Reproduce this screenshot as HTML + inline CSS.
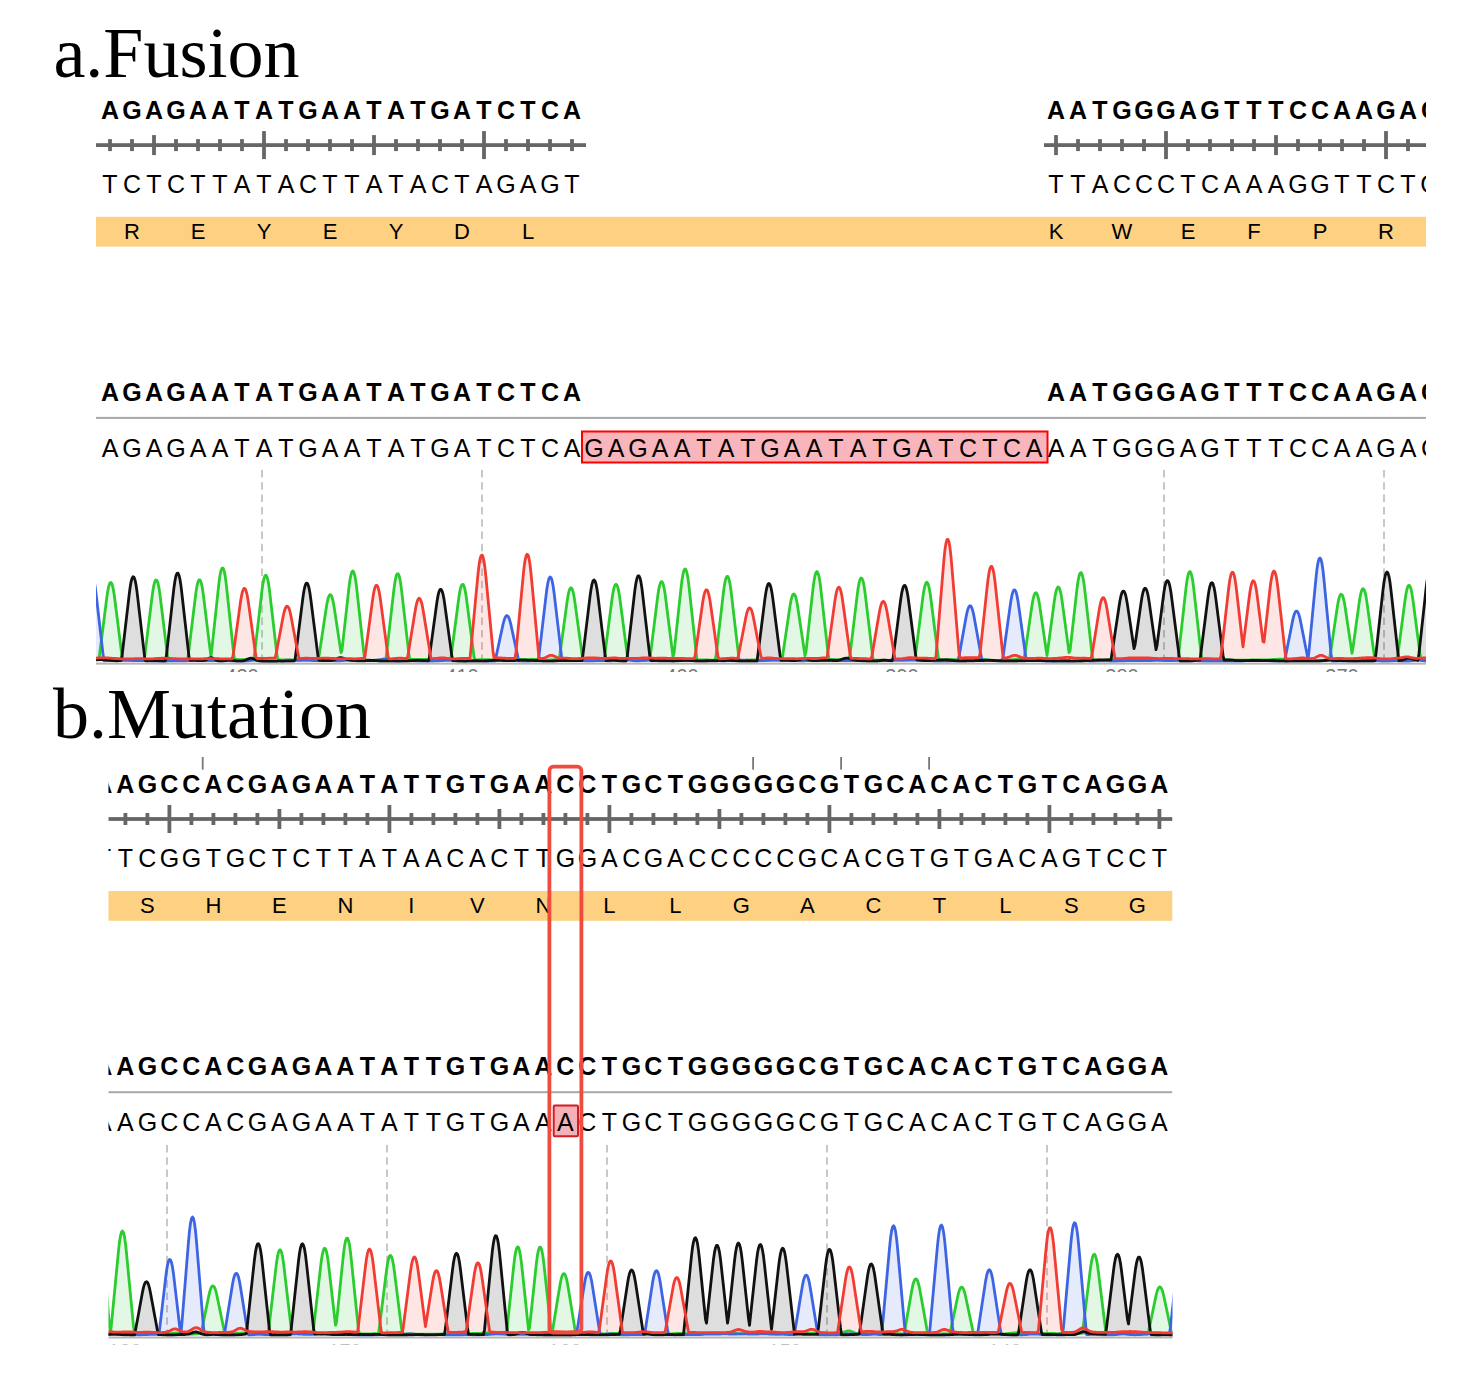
<!DOCTYPE html><html><head><meta charset="utf-8"><style>html,body{margin:0;padding:0;background:#fff;}body{width:1475px;height:1395px;overflow:hidden;} svg{display:block;}</style></head><body>
<svg width="1475" height="1395" viewBox="0 0 1475 1395">
<defs><clipPath id="cf"><rect x="96" y="0" width="1330" height="1395"/></clipPath><clipPath id="cfc"><rect x="96" y="440" width="1330" height="223"/></clipPath><clipPath id="cfn"><rect x="96" y="665" width="1330" height="7"/></clipPath><clipPath id="cm"><rect x="108.5" y="0" width="1064" height="1395"/></clipPath><clipPath id="cmc"><rect x="108.5" y="1130" width="1064" height="207"/></clipPath><clipPath id="cmn"><rect x="108.5" y="1336" width="1064" height="8.5"/></clipPath></defs>
<rect width="1475" height="1395" fill="#fff"/>
<text x="53.4" y="77" font-family='"Liberation Serif", serif' font-size="72" fill="#000">a.Fusion</text>
<text x="53" y="738.3" font-family='"Liberation Serif", serif' font-size="72" fill="#000">b.Mutation</text>
<g clip-path="url(#cf)">
<text x="110.0 132.0 154.0 176.0 198.0 220.0 242.0 264.0 286.0 308.0 330.0 352.0 374.0 396.0 418.0 440.0 462.0 484.0 506.0 528.0 550.0 572.0" y="119.0" font-family='"Liberation Sans", sans-serif' font-size="25" font-weight="bold" fill="#000" text-anchor="middle" >AGAGAATATGAATATGATCTCA</text>
<text x="1056.0 1078.0 1100.0 1122.0 1144.0 1166.0 1188.0 1210.0 1232.0 1254.0 1276.0 1298.0 1320.0 1342.0 1364.0 1386.0 1408.0 1430.0" y="119.0" font-family='"Liberation Sans", sans-serif' font-size="25" font-weight="bold" fill="#000" text-anchor="middle" >AATGGGAGTTTCCAAGAC</text>
<rect x="96.0" y="143.2" width="490.0" height="3.8" fill="#666666"/>
<rect x="108.1" y="139.1" width="3.8" height="12.0" fill="#666666"/>
<rect x="130.1" y="139.1" width="3.8" height="12.0" fill="#666666"/>
<rect x="152.1" y="135.1" width="3.8" height="20.0" fill="#666666"/>
<rect x="174.1" y="139.1" width="3.8" height="12.0" fill="#666666"/>
<rect x="196.1" y="139.1" width="3.8" height="12.0" fill="#666666"/>
<rect x="218.1" y="139.1" width="3.8" height="12.0" fill="#666666"/>
<rect x="240.1" y="139.1" width="3.8" height="12.0" fill="#666666"/>
<rect x="262.1" y="131.1" width="3.8" height="28.0" fill="#666666"/>
<rect x="284.1" y="139.1" width="3.8" height="12.0" fill="#666666"/>
<rect x="306.1" y="139.1" width="3.8" height="12.0" fill="#666666"/>
<rect x="328.1" y="139.1" width="3.8" height="12.0" fill="#666666"/>
<rect x="350.1" y="139.1" width="3.8" height="12.0" fill="#666666"/>
<rect x="372.1" y="135.1" width="3.8" height="20.0" fill="#666666"/>
<rect x="394.1" y="139.1" width="3.8" height="12.0" fill="#666666"/>
<rect x="416.1" y="139.1" width="3.8" height="12.0" fill="#666666"/>
<rect x="438.1" y="139.1" width="3.8" height="12.0" fill="#666666"/>
<rect x="460.1" y="139.1" width="3.8" height="12.0" fill="#666666"/>
<rect x="482.1" y="131.1" width="3.8" height="28.0" fill="#666666"/>
<rect x="504.1" y="139.1" width="3.8" height="12.0" fill="#666666"/>
<rect x="526.1" y="139.1" width="3.8" height="12.0" fill="#666666"/>
<rect x="548.1" y="139.1" width="3.8" height="12.0" fill="#666666"/>
<rect x="570.1" y="139.1" width="3.8" height="12.0" fill="#666666"/>
<rect x="1044.0" y="143.2" width="396.0" height="3.8" fill="#666666"/>
<rect x="1054.1" y="135.1" width="3.8" height="20.0" fill="#666666"/>
<rect x="1076.1" y="139.1" width="3.8" height="12.0" fill="#666666"/>
<rect x="1098.1" y="139.1" width="3.8" height="12.0" fill="#666666"/>
<rect x="1120.1" y="139.1" width="3.8" height="12.0" fill="#666666"/>
<rect x="1142.1" y="139.1" width="3.8" height="12.0" fill="#666666"/>
<rect x="1164.1" y="131.1" width="3.8" height="28.0" fill="#666666"/>
<rect x="1186.1" y="139.1" width="3.8" height="12.0" fill="#666666"/>
<rect x="1208.1" y="139.1" width="3.8" height="12.0" fill="#666666"/>
<rect x="1230.1" y="139.1" width="3.8" height="12.0" fill="#666666"/>
<rect x="1252.1" y="139.1" width="3.8" height="12.0" fill="#666666"/>
<rect x="1274.1" y="135.1" width="3.8" height="20.0" fill="#666666"/>
<rect x="1296.1" y="139.1" width="3.8" height="12.0" fill="#666666"/>
<rect x="1318.1" y="139.1" width="3.8" height="12.0" fill="#666666"/>
<rect x="1340.1" y="139.1" width="3.8" height="12.0" fill="#666666"/>
<rect x="1362.1" y="139.1" width="3.8" height="12.0" fill="#666666"/>
<rect x="1384.1" y="131.1" width="3.8" height="28.0" fill="#666666"/>
<rect x="1406.1" y="139.1" width="3.8" height="12.0" fill="#666666"/>
<rect x="1428.1" y="139.1" width="3.8" height="12.0" fill="#666666"/>
<text x="110.0 132.0 154.0 176.0 198.0 220.0 242.0 264.0 286.0 308.0 330.0 352.0 374.0 396.0 418.0 440.0 462.0 484.0 506.0 528.0 550.0 572.0" y="193.0" font-family='"Liberation Sans", sans-serif' font-size="25" font-weight="normal" fill="#000" text-anchor="middle" >TCTCTTATACTTATACTAGAGT</text>
<text x="1056.0 1078.0 1100.0 1122.0 1144.0 1166.0 1188.0 1210.0 1232.0 1254.0 1276.0 1298.0 1320.0 1342.0 1364.0 1386.0 1408.0 1430.0" y="193.0" font-family='"Liberation Sans", sans-serif' font-size="25" font-weight="normal" fill="#000" text-anchor="middle" >TTACCCTCAAAGGTTCTG</text>
<rect x="96" y="216.8" width="1340" height="29.8" fill="#fdd082"/>
<text x="132.0 198.0 264.0 330.0 396.0 462.0 528.0" y="239.0" font-family='"Liberation Sans", sans-serif' font-size="22" font-weight="normal" fill="#000" text-anchor="middle" >REYEYDL</text>
<text x="1056.0 1122.0 1188.0 1254.0 1320.0 1386.0" y="239.0" font-family='"Liberation Sans", sans-serif' font-size="22" font-weight="normal" fill="#000" text-anchor="middle" >KWEFPR</text>
<text x="110.0 132.0 154.0 176.0 198.0 220.0 242.0 264.0 286.0 308.0 330.0 352.0 374.0 396.0 418.0 440.0 462.0 484.0 506.0 528.0 550.0 572.0" y="401.0" font-family='"Liberation Sans", sans-serif' font-size="25" font-weight="bold" fill="#000" text-anchor="middle" >AGAGAATATGAATATGATCTCA</text>
<text x="1056.0 1078.0 1100.0 1122.0 1144.0 1166.0 1188.0 1210.0 1232.0 1254.0 1276.0 1298.0 1320.0 1342.0 1364.0 1386.0 1408.0 1430.0" y="401.0" font-family='"Liberation Sans", sans-serif' font-size="25" font-weight="bold" fill="#000" text-anchor="middle" >AATGGGAGTTTCCAAGAC</text>
<rect x="96" y="416.9" width="1340" height="2" fill="#a8a8a8"/>
<rect x="582" y="431.5" width="465.5" height="31" fill="#f8b5bb" stroke="#ff0000" stroke-width="2"/>
<text x="110.0 132.0 154.0 176.0 198.0 220.0 242.0 264.0 286.0 308.0 330.0 352.0 374.0 396.0 418.0 440.0 462.0 484.0 506.0 528.0 550.0 572.0 594.0 616.0 638.0 660.0 682.0 704.0 726.0 748.0 770.0 792.0 814.0 836.0 858.0 880.0 902.0 924.0 946.0 968.0 990.0 1012.0 1034.0 1056.0 1078.0 1100.0 1122.0 1144.0 1166.0 1188.0 1210.0 1232.0 1254.0 1276.0 1298.0 1320.0 1342.0 1364.0 1386.0 1408.0 1430.0" y="456.8" font-family='"Liberation Sans", sans-serif' font-size="25" font-weight="normal" fill="#000" text-anchor="middle" >AGAGAATATGAATATGATCTCAGAGAATATGAATATGATCTCAAATGGGAGTTTCCAAGAC</text>
<line x1="262.0" y1="470.0" x2="262.0" y2="660.0" stroke="#c8c8c8" stroke-width="2" stroke-dasharray="7.5 4.8"/>
<line x1="482.0" y1="470.0" x2="482.0" y2="660.0" stroke="#c8c8c8" stroke-width="2" stroke-dasharray="7.5 4.8"/>
<line x1="1164.0" y1="470.0" x2="1164.0" y2="660.0" stroke="#c8c8c8" stroke-width="2" stroke-dasharray="7.5 4.8"/>
<line x1="1384.0" y1="470.0" x2="1384.0" y2="660.0" stroke="#c8c8c8" stroke-width="2" stroke-dasharray="7.5 4.8"/>
</g>
<g clip-path="url(#cfc)">
<defs><path id="cfcA" d="M81.0 660.4L81.0 659.4l1 0 1+0.1 1 0 1+0.1 1 0 1 0 1+0.1 1 0 1 0 1 0 1 0 1+0.1 1 0 1 0 1 0 1+0.1 1 0 1-0.7 1-7.9 1-7.9 1-7.9 1-7.9 1-7.9 1-7.9 1-8 1-7.8 1-6.3 1-4.4 1-2.4 1-0.4 1+1.6 1+3.6 1+5.6 1+7.5 1+7.9 1+8 1+7.9 1+8 1+7.9 1+8 1+7.9 1+4 1 0 1 0 1 0 1-0.1 1 0 1 0 1-0.1 1 0 1-0.1 1 0 1-0.1 1-0.1 1-0.1 1-0.1 1-0.1 1-0.1 1-0.1 1-0.1 1-0.1 1-0.1 1-0.1 1-4.9 1-8.2 1-8.1 1-8.1 1-8.1 1-8.1 1-8.1 1-8 1-7.4 1-5.4 1-3.4 1-1.3 1+0.7 1+2.7 1+4.8 1+6.8 1+8.1 1+8.2 1+8.1 1+8.2 1+8.1 1+8.1 1+8 1+8.1 1 0 1 0 1 0 1+0.1 1 0 1+0.1 1+0.1 1 0 1 0 1 0 1-0.1 1 0 1-0.1 1 0 1-0.1 1 0 1-0.1 1 0 1 0 1-2.4 1-8.2 1-8.1 1-8.2 1-8.2 1-8.2 1-8.2 1-8.2 1-7.9 1-6.1 1-4.1 1-2 1 0 1+2.1 1+4.1 1+6.1 1+7.9 1+8.2 1+8.2 1+8.1 1+8.2 1+8.1 1+8.2 1+7.8 1-9.3 1-9.3 1-9.3 1-9.3 1-9.4 1-9.3 1-9.4 1-9.1 1-7.1 1-4.8 1-2.4 1-0.1 1+2.3 1+4.6 1+7 1+9.1 1+9.4 1+9.4 1+9.4 1+9.3 1+9.4 1+9.4 1+9.3 1+2.8 1 0 1 0 1+0.1 1 0 1 0 1 0 1 0 1+0.1 1 0 1-0.1 1 0 1 0 1-0.1 1 0 1 0 1 0 1 0 1 0 1-0.8 1-8.5 1-8.6 1-8.5 1-8.6 1-8.6 1-8.6 1-8.6 1-8.6 1-6.9 1-4.8 1-2.7 1-0.5 1+1.6 1+3.8 1+6 1+8.1 1+8.6 1+8.7 1+8.6 1+8.7 1+8.7 1+8.7 1+8.7 1+4.3 1+0.1 1+0.1 1 0 1 0 1+0.1 1 0 1 0 1 0 1-0.1 1 0 1 0 1-0.1 1 0 1 0 1 0 1-0.1 1 0 1 0 1 0 1+0.1 1 0 1 0 1+0.1 1 0 1+0.1 1 0 1 0 1 0 1 0 1 0 1 0 1 0 1 0 1-0.1 1 0 1 0 1 0 1 0 1 0 1 0 1-3.9 1-6.7 1-6.6 1-6.6 1-6.6 1-6.7 1-6.6 1-6.7 1-6.1 1-4.6 1-2.9 1-1.2 1+0.4 1+2.1 1+3.7 1+5.4 1+6.5 1+6.6 1+6.6 1+6.6 1+6.7 1+6.6 1+6.7 1-2.4 1-9 1-9.1 1-9 1-9 1-9 1-9 1-9 1-7.4 1-5.1 1-2.9 1-0.7 1+1.7 1+3.9 1+6.1 1+8.4 1+9.1 1+9.1 1+9.1 1+9.1 1+9.1 1+9 1+9.1 1+5.5 1 0 1 0 1 0 1+0.1 1 0 1 0 1 0 1 0 1-0.1 1 0 1 0 1-0.1 1 0 1-0.1 1 0 1-0.1 1 0 1-0.1 1-0.1 1 0 1-1 1-8.8 1-8.7 1-8.8 1-8.8 1-8.8 1-8.8 1-8.7 1-8.7 1-7 1-4.8 1-2.7 1-0.4 1+1.8 1+3.9 1+6.2 1+8.2 1+8.8 1+8.7 1+8.8 1+8.8 1+8.7 1+8.8 1+8.7 1+4.4 1 0 1 0 1 0 1-0.1 1 0 1 0 1 0 1 0 1-0.1 1 0 1 0 1 0 1 0 1 0 1 0 1 0 1 0 1+0.1 1 0 1+0.1 1+0.1 1 0 1+0.1 1 0 1 0 1+0.1 1 0 1 0 1-0.1 1 0 1-0.1 1 0 1-0.1 1-0.1 1 0 1-0.1 1-0.1 1 0 1-0.1 1 0 1-1.6 1-7.7 1-7.7 1-7.6 1-7.7 1-7.6 1-7.7 1-7.6 1-7.5 1-5.9 1-3.9 1-2.1 1-0.2 1+1.8 1+3.6 1+5.6 1+7.4 1+7.7 1+7.7 1+7.7 1+7.7 1+7.7 1+7.7 1+7.8 1+3.1 1 0 1 0 1 0 1-0.1 1 0 1 0 1 0 1-0.1 1 0 1 0 1 0 1+0.1 1 0 1 0 1+0.1 1 0 1 0 1+0.1 1 0 1 0 1+0.1 1 0 1+0.1 1 0 1+0.1 1 0 1 0 1 0 1 0 1 0 1 0 1 0 1-0.1 1 0 1-0.1 1-0.1 1-0.1 1 0 1-0.1 1-0.1 1-0.1 1 0 1-0.1 1 0 1 0 1-0.1 1 0 1 0 1 0 1 0 1 0 1 0 1 0 1 0 1 0 1 0 1-0.1 1+0.1 1 0 1 0 1+0.1 1 0 1+0.1 1+0.1 1+0.1 1+0.1 1 0 1+0.1 1+0.1 1 0 1+0.1 1 0 1 0 1 0 1-0.1 1 0 1-0.1 1-0.1 1 0 1-0.1 1 0 1-0.1 1 0 1 0 1-5.9 1-7.3 1-7.3 1-7.4 1-7.3 1-7.4 1-7.4 1-7.3 1-6.4 1-4.6 1-2.7 1-0.9 1+1 1+2.9 1+4.6 1+6.5 1+7.4 1+7.4 1+7.3 1+7.4 1+7.3 1+7.3 1+7.3 1+5.8 1 0 1-0.1 1 0 1-0.1 1 0 1 0 1 0 1 0 1 0 1+0.1 1 0 1 0 1 0 1-0.1 1 0 1 0 1 0 1-0.1 1 0 1-0.1 1 0 1-6.3 1-7.7 1-7.8 1-7.7 1-7.7 1-7.7 1-7.7 1-7.6 1-6.7 1-4.7 1-2.8 1-0.9 1+1 1+2.9 1+4.8 1+6.7 1+7.6 1+7.6 1+7.6 1+7.6 1+7.6 1+7.6 1+7.6 1+6.2 1 0 1+0.1 1+0.1 1 0 1+0.2 1+0.1 1+0.1 1+0.1 1+0.2 1+0.1 1+0.1 1+0.1 1+0.1 1 0 1 0 1 0 1 0 1 0 1-0.1 1 0 1-0.1 1-1.7 1-8.1 1-8.1 1-8.1 1-8 1-8 1-8.1 1-7.9 1-7.8 1-6.2 1-4.1 1-2.1 1-0.2 1+1.9 1+3.9 1+5.8 1+7.7 1+8 1+8 1+8 1+8 1+7.9 1+8 1+7.9 1-3.4 1-9.3 1-9.4 1-9.3 1-9.3 1-9.2 1-9.3 1-9.3 1-8.3 1-6 1-3.7 1-1.4 1+0.9 1+3.3 1+5.5 1+7.8 1+9.2 1+9.3 1+9.3 1+9.2 1+9.3 1+9.4 1+9.3 1+8.4 1 0 1+0.1 1 0 1+0.1 1 0 1 0 1 0 1 0 1 0 1 0 1 0 1+0.1 1 0 1 0 1 0 1 0 1+0.1 1 0 1-4.3 1-8.4 1-8.5 1-8.6 1-8.5 1-8.5 1-8.6 1-8.6 1-8.1 1-6 1-3.9 1-1.8 1+0.3 1+2.5 1+4.7 1+6.8 1+8.5 1+8.6 1+8.6 1+8.6 1+8.6 1+8.6 1+8.6 1+8.6 1+0.9 1 0 1 0 1 0 1 0 1 0 1 0 1-0.1 1 0 1-0.1 1 0 1-0.1 1 0 1-0.1 1 0 1 0 1 0 1+0.1 1 0 1+0.1 1 0 1+0.1 1 0 1+0.1 1 0 1 0 1 0 1 0 1 0 1 0 1 0 1 0 1 0 1 0 1 0 1 0 1 0 1 0 1 0 1-0.1 1 0 1 0 1 0 1-6.8 1-6.7 1-6.8 1-6.8 1-6.8 1-6.7 1-6.8 1-6.7 1-5.6 1-3.9 1-2.2 1-0.5 1+1.2 1+2.9 1+4.5 1+6.2 1+6.8 1+6.7 1+6.7 1+6.7 1+6.7 1+6.7 1+6.7 1-4.1 1-9 1-9 1-9 1-9 1-9 1-8.9 1-9 1-7.6 1-5.4 1-3.2 1-0.9 1+1.4 1+3.6 1+5.8 1+8.1 1+8.9 1+9 1+9 1+8.9 1+8.9 1+9 1+9 1+6.2 1+0.1 1 0 1 0 1+0.1 1 0 1+0.1 1 0 1 0 1 0 1-0.1 1 0 1-0.1 1-0.1 1 0 1-0.1 1-0.1 1 0 1 0 1-0.1 1 0 1-4.1 1-8.4 1-8.3 1-8.3 1-8.3 1-8.3 1-8.3 1-8.3 1-7.8 1-5.8 1-3.7 1-1.6 1+0.5 1+2.5 1+4.7 1+6.7 1+8.3 1+8.4 1+8.4 1+8.4 1+8.4 1+8.4 1+8.3 1+8.4 1+0.8 1 0 1 0 1 0 1 0 1+0.1 1 0 1 0 1 0 1 0 1 0 1+0.1 1 0 1 0 1 0 1 0 1-0.1 1 0 1 0 1 0 1-0.1 1 0 1 0 1 0 1-0.1 1 0 1 0 1 0 1 0 1 0 1 0 1-0.1 1 0 1 0 1-0.1 1-0.1 1-0.1 1-0.1 1-0.1 1-0.1 1-0.1 1 0 1-8 1-7.9 1-7.9 1-7.8 1-7.9 1-7.8 1-7.8 1-7.8 1-6.4 1-4.5 1-2.6 1-0.5 1+1.4 1+3.4 1+5.3 1+7.4 1+7.9 1+7.9 1+8 1+7.9 1+7.9 1+8 1+7.9 1+4.7 1 0 1-0.1 1 0 1-0.1 1 0 1-0.1 1 0 1-0.1 1 0 1 0 1 0 1-0.1 1 0 1+0.1 1 0 1 0 1 0 1+0.1 1 0 1+0.1 1 0 1+0.1 1 0 1 0 1+0.1 1 0 1+0.1 1 0 1+0.1 1 0 1 0 1 0 1 0 1 0 1 0 1-0.1 1-0.1 1-0.1 1-0.1 1-0.2 1-0.1 1-0.1 1-0.1 1 0 1+0.1 1+0.1 1+0.1 1+0.1 1+0.1 1+0.2 1+0.1 1+0.1 1 0 1+0.1 1 0 1 0 1+0.1 1 0 1 0 1 0 1 0 1 0 1 0 1 0 1 0 1 0 1-0.1 1 0 1 0 1-0.1 1-0.1 1-0.1 1-0.1 1-0.1 1-0.1 1-0.1 1-0.1 1-0.1 1 0 1 0 1 0 1+0.1 1+0.1 1+0.1 1 0 1-6.7 1-6.8 1-6.8 1-6.8 1-6.9 1-6.8 1-6.9 1-6.9 1-5.7 1-3.9 1-2.3 1-0.5 1+1.2 1+2.9 1+4.6 1+6.3 1+6.9 1+6.9 1+6.9 1+6.9 1+6.9 1+6.8 1+6.6 1-7.5 1-7.4 1-7.5 1-7.4 1-7.5 1-7.4 1-7.5 1-6.9 1-5 1-3.2 1-1.3 1+0.5 1+2.4 1+4.2 1+6.1 1+7.4 1+7.4 1+7.5 1+7.4 1+7.5 1+7.5 1+7.6 1-1.5 1-8.9 1-8.9 1-8.9 1-8.9 1-8.9 1-8.9 1-8.9 1-7.4 1-5.1 1-2.9 1-0.8 1+1.6 1+3.7 1+5.9 1+8.1 1+8.8 1+8.9 1+8.8 1+8.8 1+8.9 1+9 1+9 1+5.5 1+0.2 1+0.1 1+0.2 1+0.1 1+0.1 1+0.1 1 0 1 0 1 0 1 0 1-0.1 1-0.1 1-0.1 1-0.1 1-0.1 1-0.1 1-0.1 1-0.1 1-0.1 1-0.1 1 0 1 0 1 0 1 0 1+0.1 1+0.2 1+0.1 1+0.1 1+0.1 1+0.1 1 0 1 0 1 0 1 0 1-0.1 1-0.1 1 0 1-0.1 1-0.1 1-0.1 1-0.1 1-0.1 1 0 1 0 1-0.1 1 0 1 0 1+0.1 1 0 1 0 1+0.1 1 0 1 0 1 0 1 0 1 0 1+0.1 1 0 1+0.1 1+0.1 1+0.1 1+0.1 1+0.1 1+0.1 1+0.1 1+0.1 1 0 1 0 1+0.1 1 0 1 0 1 0 1 0 1 0 1 0 1 0 1 0 1 0 1 0 1 0 1-0.1 1 0 1 0 1-0.1 1-0.1 1-9 1-9 1-9.1 1-9 1-9 1-9.1 1-9 1-9 1-7.4 1-5.2 1-3 1-0.7 1+1.5 1+3.7 1+6 1+8.1 1+8.9 1+8.9 1+8.9 1+8.8 1+9 1+8.9 1+9 1+5.4 1 0 1+0.1 1+0.1 1+0.1 1+0.1 1+0.1 1+0.1 1+0.2 1+0.1 1+0.1 1+0.1 1 0 1+0.1 1 0 1 0 1-0.1 1 0 1-0.1 1 0 1-0.1 1 0 1 0 1 0 1 0 1+0.1 1+0.1 1+0.1 1 0 1+0.1 1 0 1+0.1 1 0 1 0 1 0 1 0 1 0 1 0 1 0 1+0.1 1 0 1 0 1 0 1 0 1 0 1 0 1 0 1-0.1 1 0 1-0.1 1 0 1-0.1 1 0 1 0 1 0 1 0 1 0 1 0 1 0 1 0 1+0.1 1 0 1 0 1 0 1 0 1-0.1 1 0 1-0.1 1-0.1 1 0 1-0.1 1-0.1 1-0.1 1-0.1 1 0 1 0 1-0.1 1 0 1 0 1 0 1 0 1 0 1 0 1+0.1 1 0 1 0 1 0 1+0.1 1 0 1 0 1 0 1 0 1+0.1 1 0 1 0 1+0.1 1 0 1+0.1 1+0.1 1 0 1+0.1 1+0.1 1+0.1 1 0 1+0.1 1 0 1+0.1 1 0 1 0 1 0 1+0.1 1 0 1 0 1 0 1 0 1 0 1 0 1 0 1 0 1 0 1 0 1-0.1 1 0 1 0 1 0 1 0 1 0 1-0.1 1-4 1-6.7 1-6.7 1-6.7 1-6.8 1-6.7 1-6.8 1-6.7 1-6.2 1-4.6 1-2.9 1-1.2 1+0.5 1+2.2 1+3.8 1+5.6 1+6.7 1+6.7 1+6.7 1+6.7 1+6.8 1+6.7 1+6.7 1-5.7 1-7.3 1-7.2 1-7.3 1-7.3 1-7.3 1-7.3 1-6.5 1-4.7 1-2.9 1-1.1 1+0.8 1+2.5 1+4.4 1+6.2 1+7.3 1+7.3 1+7.3 1+7.3 1+7.2 1+7.3 1+7.3 1+6.5 1 0 1+0.1 1 0 1 0 1 0 1 0 1 0 1 0 1+0.1 1 0 1 0 1 0 1 0 1 0 1 0 1 0 1 0 1-0.1 1 0 1-0.1 1 0 1-0.1 1-6.1 1-7.7 1-7.6 1-7.7 1-7.6 1-7.6 1-7.6 1-7.7 1-6.6 1-4.8 1-2.9 1-0.9 1+0.9 1+2.8 1+4.8 1+6.7 1+7.6 1+7.7 1+7.6 1+7.7 1+7.6 1+7.7 1+7.7 1+6.1 1 0 1+0.1 1 0 1 0 1 0 1 0 1+0.1 1 0 1 0 1 0 1 0 1+0.1 1 0 1 0 1 0 1 0 1 0 1 0 1 0 1 0L1441.0 660.4"/></defs>
<use href="#cfcA" fill="#2acc2e" fill-opacity="0.130" stroke="none"/>
<defs><path id="cfcC" d="M81.0 661.2L81.0 653.2l1-8.7 1-8.7 1-8.6 1-8.6 1-8.7 1-8.6 1-8.6 1-7.4 1-5.4 1-3.1 1-1.1 1+1.2 1+3.3 1+5.5 1+7.6 1+8.7 1+8.6 1+8.7 1+8.7 1+8.6 1+8.7 1+8.6 1+6.9 1 0 1-0.1 1 0 1-0.1 1-0.1 1-0.1 1 0 1-0.1 1-0.1 1 0 1 0 1 0 1 0 1 0 1 0 1 0 1 0 1 0 1 0 1 0 1-0.1 1 0 1+0.1 1 0 1 0 1+0.1 1 0 1+0.1 1+0.1 1 0 1 0 1+0.1 1 0 1 0 1 0 1-0.1 1 0 1+0.1 1 0 1 0 1+0.1 1 0 1+0.1 1 0 1+0.1 1 0 1+0.1 1 0 1 0 1+0.1 1 0 1 0 1 0 1 0 1 0 1 0 1 0 1 0 1 0 1-0.1 1 0 1 0 1 0 1-0.1 1 0 1 0 1 0 1-0.1 1 0 1 0 1 0 1 0 1 0 1 0 1 0 1 0 1+0.1 1 0 1 0 1 0 1-0.1 1 0 1-0.1 1 0 1-0.1 1-0.1 1-0.1 1-0.1 1 0 1-0.1 1 0 1 0 1+0.1 1 0 1 0 1+0.1 1 0 1 0 1 0 1+0.1 1 0 1 0 1 0 1+0.1 1 0 1 0 1+0.1 1 0 1 0 1-0.1 1 0 1-0.1 1 0 1-0.1 1-0.1 1 0 1-0.1 1 0 1+0.1 1 0 1+0.1 1+0.1 1+0.1 1+0.1 1 0 1+0.1 1 0 1 0 1+0.1 1 0 1 0 1 0 1 0 1 0 1 0 1 0 1+0.1 1 0 1 0 1 0 1 0 1-0.1 1 0 1-0.1 1-0.1 1-0.1 1-0.2 1-0.1 1-0.1 1-0.1 1 0 1-0.1 1+0.1 1 0 1+0.1 1+0.1 1+0.1 1+0.2 1+0.1 1+0.1 1 0 1+0.1 1 0 1+0.1 1 0 1 0 1 0 1 0 1 0 1 0 1-0.1 1 0 1-0.1 1 0 1-0.1 1-0.1 1 0 1-0.1 1-0.1 1 0 1-0.1 1 0 1-0.1 1 0 1 0 1 0 1+0.1 1 0 1 0 1+0.1 1 0 1 0 1 0 1 0 1 0 1-0.1 1 0 1-0.1 1 0 1-0.1 1 0 1 0 1 0 1 0 1+0.1 1 0 1+0.1 1+0.1 1+0.1 1 0 1+0.1 1 0 1 0 1 0 1 0 1-0.1 1 0 1 0 1 0 1-0.1 1 0 1 0 1+0.1 1 0 1 0 1+0.1 1 0 1+0.1 1 0 1+0.1 1 0 1+0.1 1 0 1 0 1-0.1 1 0 1-0.1 1-0.1 1-0.1 1-0.1 1-0.1 1-0.1 1-0.1 1-0.1 1 0 1 0 1 0 1+0.1 1 0 1+0.1 1 0 1+0.1 1 0 1+0.1 1 0 1 0 1 0 1 0 1-0.1 1 0 1 0 1-0.1 1 0 1 0 1 0 1 0 1+0.1 1 0 1 0 1+0.1 1 0 1-0.1 1-0.1 1-0.1 1-0.2 1-0.1 1-0.2 1-0.3 1-0.2 1-0.1 1-0.2 1 0 1 0 1+0.2 1+0.3 1+0.3 1+0.3 1+0.3 1+0.3 1+0.2 1+0.2 1 0 1+0.1 1 0 1 0 1-0.1 1-0.1 1 0 1-0.1 1-0.1 1-0.1 1-0.1 1 0 1 0 1 0 1+0.1 1 0 1+0.1 1+0.1 1+0.1 1+0.1 1 0 1+0.1 1 0 1 0 1 0 1+0.1 1 0 1-0.1 1 0 1 0 1 0 1 0 1 0 1 0 1 0 1 0 1 0 1 0 1 0 1-0.1 1 0 1 0 1 0 1-0.1 1-0.1 1 0 1-0.1 1-0.1 1-0.1 1 0 1-0.1 1 0 1 0 1 0 1+0.1 1 0 1+0.1 1+0.1 1+0.1 1 0 1+0.1 1+0.1 1 0 1 0 1 0 1 0 1 0 1 0 1 0 1-0.1 1 0 1 0 1-0.1 1 0 1 0 1-0.1 1 0 1 0 1 0 1-0.1 1 0 1 0 1 0 1 0 1 0 1+0.1 1 0 1+0.1 1+0.1 1+0.1 1 0 1+0.1 1 0 1+0.1 1 0 1 0 1 0 1 0 1 0 1 0 1-4.1 1-4.7 1-4.6 1-4.6 1-4.7 1-4.6 1-4.7 1-4.6 1-3.9 1-2.8 1-1.7 1-0.5 1+0.7 1+1.8 1+3 1+4.1 1+4.6 1+4.6 1+4.6 1+4.6 1+4.7 1+4.6 1+4.7 1+3.2 1+0.1 1 0 1+0.1 1 0 1 0 1 0 1 0 1 0 1 0 1 0 1-0.1 1 0 1 0 1 0 1-0.1 1 0 1 0 1 0 1-0.1 1-5.1 1-8.5 1-8.6 1-8.5 1-8.5 1-8.6 1-8.5 1-8.6 1-7.8 1-5.8 1-3.7 1-1.5 1+0.6 1+2.7 1+4.9 1+7 1+8.4 1+8.5 1+8.5 1+8.5 1+8.6 1+8.5 1+8.6 1+8.5 1+0.1 1+0.1 1 0 1 0 1 0 1 0 1 0 1 0 1-0.1 1 0 1 0 1-0.1 1 0 1 0 1+0.1 1 0 1 0 1+0.1 1+0.1 1 0 1+0.1 1 0 1+0.1 1+0.1 1 0 1 0 1 0 1 0 1 0 1 0 1-0.1 1 0 1-0.1 1 0 1-0.1 1 0 1-0.1 1 0 1 0 1 0 1 0 1+0.1 1 0 1+0.1 1 0 1+0.1 1 0 1 0 1 0 1 0 1-0.1 1 0 1-0.1 1-0.1 1 0 1-0.1 1-0.1 1-0.1 1 0 1-0.1 1-0.1 1 0 1-0.1 1 0 1 0 1+0.1 1+0.1 1+0.1 1+0.1 1+0.2 1+0.1 1+0.1 1+0.1 1 0 1 0 1 0 1 0 1-0.1 1-0.1 1-0.1 1-0.1 1 0 1-0.1 1-0.1 1-0.1 1-0.1 1 0 1 0 1 0 1 0 1+0.1 1 0 1+0.1 1+0.1 1 0 1+0.1 1 0 1+0.1 1 0 1 0 1 0 1 0 1 0 1 0 1 0 1 0 1 0 1 0 1+0.1 1 0 1 0 1+0.1 1 0 1 0 1 0 1 0 1 0 1 0 1 0 1 0 1 0 1-0.1 1 0 1 0 1 0 1-0.1 1 0 1 0 1 0 1-0.1 1 0 1+0.1 1 0 1 0 1+0.1 1 0 1+0.1 1 0 1 0 1+0.1 1-0.1 1 0 1 0 1-0.1 1 0 1-0.1 1-0.1 1 0 1-0.1 1 0 1 0 1+0.1 1 0 1+0.1 1 0 1+0.1 1+0.1 1 0 1+0.1 1 0 1 0 1 0 1 0 1 0 1-0.1 1 0 1 0 1 0 1 0 1-0.1 1 0 1-0.1 1-0.1 1 0 1-0.1 1-0.1 1 0 1-0.1 1 0 1 0 1 0 1 0 1 0 1+0.1 1 0 1+0.1 1+0.1 1 0 1+0.1 1 0 1 0 1 0 1 0 1+0.1 1-0.1 1 0 1 0 1 0 1 0 1 0 1 0 1-0.1 1 0 1-0.1 1 0 1-0.1 1-0.1 1-0.1 1-0.1 1-0.1 1 0 1 0 1 0 1 0 1+0.1 1 0 1+0.1 1+0.1 1 0 1+0.1 1 0 1 0 1 0 1 0 1 0 1 0 1+0.1 1 0 1 0 1+0.1 1 0 1+0.1 1 0 1+0.1 1 0 1+0.1 1 0 1+0.1 1 0 1 0 1 0 1 0 1-0.1 1 0 1-0.1 1 0 1-0.1 1-0.1 1 0 1-0.1 1 0 1 0 1 0 1 0 1 0 1 0 1 0 1 0 1 0 1+0.1 1 0 1 0 1 0 1 0 1-0.1 1 0 1 0 1-0.1 1 0 1 0 1 0 1 0 1 0 1+0.1 1 0 1+0.1 1+0.1 1 0 1+0.1 1 0 1+0.1 1 0 1 0 1 0 1 0 1 0 1 0 1-0.1 1 0 1 0 1 0 1 0 1 0 1+0.1 1 0 1 0 1 0 1 0 1 0 1-0.1 1 0 1 0 1-0.1 1 0 1-0.1 1-0.1 1 0 1-0.1 1 0 1 0 1 0 1 0 1+0.1 1 0 1+0.1 1 0 1+0.1 1 0 1 0 1 0 1 0 1 0 1 0 1 0 1-0.1 1-0.1 1 0 1 0 1-0.1 1 0 1 0 1 0 1 0 1-0.1 1 0 1 0 1 0 1-0.1 1 0 1 0 1 0 1 0 1 0 1+0.1 1 0 1 0 1+0.1 1 0 1 0 1 0 1 0 1 0 1-0.1 1 0 1 0 1-0.1 1 0 1 0 1 0 1 0 1 0 1 0 1+0.1 1+0.1 1+0.1 1+0.1 1+0.1 1+0.1 1+0.1 1+0.1 1+0.1 1+0.1 1 0 1 0 1+0.1 1 0 1 0 1 0 1 0 1 0 1 0 1 0 1 0 1 0 1 0 1 0 1-0.1 1 0 1 0 1-0.1 1 0 1 0 1-0.1 1 0 1-0.1 1 0 1-4 1-5.6 1-5.6 1-5.7 1-5.6 1-5.6 1-5.6 1-5.6 1-5 1-3.6 1-2.2 1-0.9 1+0.6 1+2 1+3.3 1+4.8 1+5.6 1+5.5 1+5.6 1+5.5 1+5.6 1+5.5 1+5.5 1+5 1 0 1-0.1 1 0 1 0 1 0 1 0 1+0.1 1+0.1 1+0.1 1+0.1 1 0 1+0.1 1+0.1 1 0 1 0 1-0.1 1 0 1-0.1 1-0.1 1-0.1 1-2.9 1-7.3 1-7.2 1-7.2 1-7.2 1-7.2 1-7.1 1-7.2 1-6.8 1-5.2 1-3.4 1-1.7 1+0.2 1+1.9 1+3.7 1+5.6 1+7 1+7.1 1+7.2 1+7.2 1+7.2 1+7.2 1+7.3 1+7.3 1+1.5 1+0.1 1 0 1+0.1 1 0 1 0 1 0 1 0 1 0 1-0.1 1 0 1+0.1 1 0 1+0.1 1+0.1 1+0.1 1 0 1+0.1 1+0.1 1 0 1+0.1 1 0 1 0 1 0 1 0 1 0 1 0 1-0.1 1 0 1 0 1-0.1 1 0 1-0.1 1 0 1 0 1 0 1 0 1 0 1 0 1+0.1 1 0 1+0.1 1 0 1 0 1+0.1 1 0 1-0.1 1 0 1-0.1 1-0.1 1-0.1 1-0.2 1-0.1 1-0.2 1 0 1-0.1 1+0.1 1+0.1 1+0.1 1+0.1 1+0.2 1+0.1 1+0.1 1+0.1 1 0 1 0 1 0 1 0 1 0 1-0.1 1 0 1 0 1-0.1 1 0 1 0 1 0 1 0 1 0 1 0 1 0 1+0.1 1 0 1 0 1+0.1 1 0 1 0 1 0 1 0 1 0 1 0 1 0 1-0.1 1 0 1 0 1 0 1-0.1 1 0 1 0 1 0 1-0.1 1 0 1 0 1 0 1-0.1 1 0 1 0 1 0 1 0 1 0 1 0 1 0 1 0 1 0 1 0 1+0.1 1 0 1 0 1 0 1 0 1 0 1 0 1 0 1-0.1 1 0 1-0.1 1 0 1-0.1 1-0.1 1 0 1-0.1 1 0 1-0.1 1 0 1 0 1+0.1 1+0.1 1 0 1+0.1 1+0.1 1+0.1 1 0 1+0.1 1 0 1 0 1 0 1-0.1 1 0 1-0.1 1-0.1 1 0 1-0.1 1 0 1 0 1-0.1 1 0 1 0 1 0 1+0.1 1 0 1 0 1 0 1+0.1 1 0 1 0 1+0.1 1 0 1 0 1+0.1 1 0 1+0.1 1 0 1+0.1 1 0 1+0.1 1 0 1+0.1 1 0 1 0 1 0 1+0.1 1 0 1 0 1 0 1 0 1 0 1 0 1 0 1 0 1 0 1 0 1 0 1 0 1 0 1 0 1 0 1 0 1 0 1 0 1 0 1 0 1 0 1 0 1 0 1 0 1 0 1 0 1 0 1 0 1 0 1 0 1 0 1 0 1 0 1-0.1 1 0 1 0 1-0.1 1-0.1 1-0.1 1-0.1 1 0 1-0.1 1-0.1 1 0 1 0 1 0 1 0 1+0.1 1 0 1 0 1+0.1 1-0.1 1 0 1-0.1 1 0 1-0.1 1 0 1 0 1 0 1+0.1 1+0.1 1+0.1 1+0.1 1+0.1 1+0.1 1 0 1+0.1 1 0 1 0 1-0.1 1 0 1-0.1 1 0 1-0.1 1 0 1 0 1 0 1 0 1-1.5 1-5 1-5.1 1-5 1-5 1-5.1 1-5.1 1-5.1 1-4.9 1-3.8 1-2.6 1-1.3 1 0 1+1.2 1+2.5 1+3.8 1+4.9 1+5.1 1+5.1 1+5 1+5.1 1+5.1 1+5 1+5.1 1-7.9 1-10.5 1-10.5 1-10.5 1-10.5 1-10.5 1-10.5 1-10.4 1-9 1-6.2 1-3.7 1-1 1+1.6 1+4.2 1+6.8 1+9.5 1+10.5 1+10.6 1+10.5 1+10.5 1+10.6 1+10.5 1+10.5 1+7.4 1 0 1-0.1 1 0 1 0 1 0 1-0.1 1 0 1 0 1-0.1 1 0 1 0 1-0.1 1 0 1 0 1 0 1 0 1 0 1 0 1 0 1+0.1 1 0 1 0 1 0 1 0 1 0 1-0.1 1 0 1-0.1 1-0.1 1-0.1 1 0 1-0.1 1-0.1 1 0 1-0.1 1 0 1 0 1 0 1+0.1 1 0 1+0.1 1+0.1 1+0.1 1 0 1+0.1 1+0.1 1+0.1 1+0.1 1 0 1+0.1 1 0 1 0 1 0 1 0 1 0 1 0 1 0 1-0.1 1 0 1-0.1 1 0 1-0.1 1 0 1 0 1 0 1+0.1 1 0 1+0.1 1 0 1+0.1 1 0 1+0.1 1 0 1 0 1 0 1 0 1-0.1 1-0.1 1-0.1 1-0.1 1-0.2 1-0.1 1-0.2 1-0.1 1 0 1 0 1 0 1+0.1 1+0.2 1+0.1 1+0.2 1+0.1 1+0.1 1+0.1 1 0 1 0 1+0.1 1 0 1 0 1 0 1 0 1 0 1 0 1 0 1 0 1 0 1 0 1 0 1 0L1441.0 661.2"/></defs>
<use href="#cfcC" fill="#3d64e2" fill-opacity="0.130" stroke="none"/>
<defs><path id="cfcG" d="M81.0 661.4L81.0 660.3l1-0.1 1 0 1 0 1 0 1 0 1-0.1 1 0 1 0 1 0 1-0.1 1 0 1-0.1 1-0.1 1-0.1 1 0 1-0.1 1-0.1 1 0 1 0 1 0 1 0 1 0 1+0.1 1+0.1 1+0.1 1+0.1 1+0.2 1+0.1 1+0.1 1+0.1 1+0.1 1+0.1 1+0.1 1+0.1 1 0 1 0 1 0 1-0.1 1 0 1 0 1-4.4 1-8.6 1-8.6 1-8.6 1-8.5 1-8.6 1-8.6 1-8.6 1-8 1-6 1-3.8 1-1.7 1+0.5 1+2.7 1+4.8 1+6.9 1+8.5 1+8.7 1+8.6 1+8.6 1+8.5 1+8.6 1+8.5 1+8.5 1+0.8 1-0.1 1 0 1-0.1 1 0 1-0.1 1 0 1 0 1 0 1 0 1 0 1+0.1 1 0 1+0.1 1 0 1+0.1 1+0.1 1 0 1 0 1 0 1-1.8 1-8.9 1-9 1-9 1-9 1-9 1-9.1 1-9 1-8.8 1-6.9 1-4.7 1-2.4 1-0.2 1+2.1 1+4.3 1+6.5 1+8.5 1+8.9 1+8.9 1+8.9 1+8.9 1+8.8 1+8.9 1+8.9 1+3.5 1 0 1-0.1 1+0.1 1 0 1 0 1+0.1 1+0.1 1 0 1+0.1 1+0.1 1 0 1 0 1 0 1-0.2 1-0.3 1-0.4 1-0.5 1-0.6 1-0.5 1-0.4 1-0.1 1+0.2 1+0.4 1+0.5 1+0.6 1+0.6 1+0.5 1+0.3 1+0.2 1+0.1 1 0 1 0 1-0.1 1-0.2 1-0.1 1-0.2 1-0.1 1-0.2 1 0 1 0 1 0 1+0.2 1+0.1 1+0.2 1+0.1 1+0.2 1+0.1 1 0 1+0.1 1 0 1-0.1 1-0.1 1-0.2 1-0.2 1-0.4 1-0.4 1-0.4 1-0.5 1-0.3 1-0.3 1-0.1 1+0.2 1+0.2 1+0.4 1+0.5 1+0.4 1+0.5 1+0.3 1+0.2 1+0.2 1+0.1 1+0.1 1 0 1 0 1 0 1 0 1 0 1 0 1 0 1 0 1 0 1 0 1 0 1 0 1 0 1 0 1 0 1-0.1 1 0 1 0 1+0.1 1 0 1 0 1 0 1-0.1 1 0 1 0 1-0.1 1 0 1 0 1-0.1 1 0 1 0 1 0 1-0.8 1-7.9 1-7.9 1-7.9 1-7.9 1-7.9 1-7.9 1-8 1-7.8 1-6.5 1-4.4 1-2.5 1-0.5 1+1.5 1+3.4 1+5.5 1+7.3 1+7.9 1+7.9 1+7.9 1+7.9 1+8 1+8 1+7.9 1+4.1 1 0 1 0 1+0.1 1 0 1+0.1 1 0 1 0 1+0.1 1 0 1 0 1 0 1-0.1 1-0.1 1-0.3 1-0.3 1-0.4 1-0.5 1-0.5 1-0.4 1-0.3 1-0.2 1 0 1+0.2 1+0.3 1+0.3 1+0.4 1+0.4 1+0.3 1+0.3 1+0.2 1+0.2 1+0.1 1+0.1 1+0.1 1+0.1 1+0.1 1 0 1+0.1 1 0 1+0.1 1 0 1 0 1 0 1 0 1-0.1 1 0 1-0.1 1 0 1-0.1 1 0 1-0.1 1 0 1 0 1 0 1 0 1+0.1 1 0 1+0.1 1+0.1 1+0.1 1+0.1 1 0 1+0.1 1 0 1+0.1 1 0 1 0 1 0 1-0.1 1 0 1 0 1-0.1 1 0 1 0 1 0 1 0 1 0 1+0.1 1 0 1 0 1 0 1+0.1 1 0 1-0.1 1 0 1 0 1 0 1-0.1 1 0 1-0.1 1-0.1 1 0 1-0.1 1-0.1 1-0.1 1 0 1-0.1 1 0 1 0 1 0 1 0 1 0 1+0.1 1+0.1 1 0 1+0.1 1 0 1+0.1 1 0 1-0.7 1-7.3 1-7.4 1-7.3 1-7.4 1-7.3 1-7.3 1-7.3 1-7.2 1-5.9 1-4 1-2.1 1-0.3 1+1.5 1+3.3 1+5.1 1+6.9 1+7.4 1+7.3 1+7.3 1+7.2 1+7.3 1+7.3 1+7.2 1+3.7 1-0.1 1 0 1+0.1 1 0 1+0.1 1+0.1 1 0 1+0.1 1+0.1 1 0 1+0.1 1 0 1 0 1-0.1 1 0 1 0 1-0.1 1 0 1-0.1 1 0 1 0 1 0 1 0 1 0 1 0 1+0.1 1 0 1 0 1 0 1 0 1 0 1-0.1 1 0 1-0.1 1-0.1 1-0.1 1-0.1 1 0 1-0.1 1-0.1 1-0.1 1 0 1 0 1 0 1 0 1 0 1 0 1+0.1 1 0 1+0.1 1 0 1+0.1 1 0 1+0.1 1 0 1 0 1 0 1 0 1 0 1-0.1 1 0 1-0.1 1-0.1 1 0 1-0.1 1 0 1-0.1 1 0 1 0 1 0 1 0 1 0 1 0 1+0.1 1 0 1 0 1 0 1+0.1 1 0 1 0 1+0.1 1 0 1 0 1+0.1 1+0.1 1 0 1+0.1 1+0.1 1 0 1+0.1 1+0.1 1 0 1 0 1+0.1 1 0 1 0 1-0.1 1 0 1 0 1-0.1 1 0 1-0.1 1-0.1 1 0 1-0.1 1-0.1 1 0 1-0.1 1 0 1 0 1 0 1 0 1 0 1+0.1 1 0 1 0 1 0 1 0 1 0 1 0 1 0 1-0.1 1 0 1 0 1 0 1 0 1+0.1 1 0 1+0.1 1-6.5 1-8.2 1-8.2 1-8.1 1-8.3 1-8.2 1-8.3 1-8.3 1-7.2 1-5.3 1-3.1 1-1.1 1+1 1+3.1 1+5.1 1+7.2 1+8.3 1+8.2 1+8.3 1+8.2 1+8.2 1+8.3 1+8.2 1+6.5 1 0 1-0.1 1 0 1-0.1 1-0.1 1 0 1 0 1 0 1+0.1 1+0.1 1+0.1 1+0.2 1+0.1 1+0.1 1 0 1+0.1 1 0 1 0 1 0 1 0 1-2.6 1-8.6 1-8.7 1-8.7 1-8.6 1-8.7 1-8.7 1-8.8 1-8.4 1-6.6 1-4.4 1-2.3 1 0 1+2.1 1+4.4 1+6.5 1+8.5 1+8.7 1+8.7 1+8.7 1+8.6 1+8.7 1+8.6 1+8.6 1+2.5 1 0 1 0 1 0 1+0.1 1 0 1+0.1 1 0 1+0.1 1 0 1+0.1 1 0 1 0 1 0 1 0 1 0 1 0 1 0 1 0 1 0 1 0 1+0.1 1 0 1 0 1-0.1 1 0 1 0 1-0.1 1-0.1 1 0 1-0.1 1-0.1 1-0.1 1 0 1-0.1 1 0 1 0 1 0 1 0 1+0.1 1+0.1 1+0.1 1+0.1 1+0.1 1+0.1 1+0.1 1 0 1+0.1 1 0 1 0 1 0 1 0 1 0 1 0 1-0.1 1 0 1 0 1-0.1 1 0 1-0.1 1 0 1 0 1 0 1 0 1 0 1 0 1 0 1-0.1 1 0 1 0 1 0 1-0.1 1 0 1-0.1 1 0 1-0.1 1 0 1 0 1 0 1 0 1 0 1+0.1 1 0 1+0.1 1+0.1 1+0.1 1+0.1 1 0 1+0.1 1 0 1+0.1 1 0 1 0 1 0 1 0 1 0 1-0.1 1 0 1 0 1 0 1 0 1+0.1 1 0 1 0 1 0 1 0 1 0 1-7.1 1-8 1-7.9 1-7.9 1-8 1-7.9 1-8 1-7.9 1-6.7 1-4.8 1-2.7 1-0.8 1+1.2 1+3.1 1+5.2 1+7 1+7.9 1+7.9 1+7.8 1+7.8 1+7.9 1+7.8 1+7.9 1+5.5 1-0.1 1 0 1 0 1 0 1 0 1+0.1 1 0 1 0 1 0 1+0.1 1 0 1 0 1+0.1 1 0 1-0.1 1-0.1 1-0.2 1-0.2 1-0.4 1-0.3 1-0.3 1-0.2 1-0.1 1+0.1 1+0.1 1+0.3 1+0.3 1+0.4 1+0.2 1+0.2 1+0.2 1 0 1+0.1 1-0.1 1 0 1 0 1 0 1-0.1 1 0 1 0 1 0 1 0 1 0 1 0 1 0 1 0 1 0 1 0 1 0 1 0 1 0 1+0.1 1 0 1 0 1 0 1 0 1-0.1 1-0.2 1-0.2 1-0.3 1-0.4 1-0.4 1-0.3 1-0.3 1-0.2 1 0 1+0.1 1+0.3 1+0.2 1+0.4 1+0.3 1+0.2 1+0.3 1+0.2 1+0.1 1+0.2 1+0.1 1+0.1 1+0.1 1 0 1+0.1 1 0 1+0.1 1 0 1 0 1+0.1 1 0 1 0 1+0.1 1 0 1 0 1 0 1 0 1 0 1 0 1-0.1 1-0.1 1-0.1 1-0.2 1-0.1 1-0.1 1-0.2 1 0 1 0 1 0 1+0.1 1+0.1 1+0.2 1+0.1 1+0.1 1+0.1 1-2.2 1-7.6 1-7.6 1-7.7 1-7.7 1-7.7 1-7.7 1-7.8 1-7.5 1-5.8 1-4 1-2 1-0.1 1+1.8 1+3.8 1+5.6 1+7.4 1+7.6 1+7.6 1+7.7 1+7.6 1+7.7 1+7.7 1+7.7 1+2.3 1+0.1 1+0.1 1+0.1 1+0.1 1 0 1+0.1 1 0 1+0.1 1 0 1 0 1 0 1 0 1-0.1 1 0 1-0.1 1-0.1 1 0 1-0.1 1 0 1-0.1 1 0 1 0 1-0.1 1 0 1 0 1-0.1 1 0 1 0 1 0 1+0.1 1 0 1+0.1 1+0.1 1+0.1 1+0.1 1+0.1 1+0.1 1+0.2 1+0.1 1 0 1+0.1 1 0 1+0.1 1 0 1 0 1-0.1 1 0 1 0 1 0 1-0.1 1 0 1 0 1 0 1 0 1 0 1-0.1 1 0 1-0.1 1 0 1-0.1 1 0 1-0.1 1 0 1 0 1 0 1 0 1 0 1-0.1 1 0 1 0 1-0.1 1 0 1 0 1 0 1+0.1 1+0.1 1 0 1+0.1 1+0.1 1+0.1 1+0.1 1 0 1+0.1 1 0 1 0 1+0.1 1-0.1 1 0 1 0 1 0 1 0 1 0 1 0 1 0 1 0 1 0 1 0 1 0 1 0 1 0 1-0.1 1 0 1 0 1 0 1-0.1 1 0 1 0 1 0 1-0.1 1 0 1 0 1 0 1 0 1 0 1 0 1 0 1 0 1 0 1 0 1 0 1 0 1 0 1 0 1 0 1 0 1 0 1 0 1 0 1+0.1 1 0 1 0 1+0.1 1 0 1 0 1+0.1 1 0 1 0 1 0 1 0 1+0.1 1 0 1 0 1-0.1 1 0 1 0 1 0 1 0 1 0 1 0 1 0 1 0 1 0 1 0 1+0.1 1 0 1 0 1 0 1+0.1 1 0 1 0 1-0.1 1 0 1 0 1-0.1 1 0 1-0.1 1-0.1 1 0 1-0.1 1-0.1 1-0.1 1 0 1-0.1 1 0 1-0.1 1 0 1-0.1 1 0 1-0.1 1 0 1-0.1 1 0 1-0.1 1-0.1 1 0 1 0 1 0 1 0 1 0 1 0 1 0 1+0.1 1 0 1 0 1-6.6 1-6.6 1-6.6 1-6.7 1-6.6 1-6.7 1-6.6 1-6.7 1-6.3 1-4.8 1-3.2 1-1.4 1+0.2 1+1.8 1+3.6 1+5.2 1+6.5 1+6.7 1+6.7 1+6.7 1+6.7 1+6.7 1+6.7 1-3.4 1-7 1-7 1-7 1-6.9 1-7 1-7 1-6.4 1-4.6 1-3 1-1.1 1+0.5 1+2.3 1+4.1 1+5.8 1+7 1+7 1+7 1+7 1+6.9 1+7 1+6.9 1-4.1 1-7.8 1-7.7 1-7.7 1-7.8 1-7.7 1-7.8 1-7.4 1-5.6 1-3.7 1-1.8 1+0.2 1+2.1 1+4 1+5.9 1+7.6 1+7.7 1+7.8 1+7.8 1+7.7 1+7.8 1+7.8 1+7.8 1+6.2 1+0.1 1 0 1+0.1 1 0 1 0 1 0 1 0 1 0 1-0.1 1 0 1-0.1 1-0.1 1-0.1 1-0.2 1-0.1 1-0.1 1-0.2 1-0.1 1 0 1 0 1-8 1-7.9 1-7.8 1-7.9 1-7.8 1-7.9 1-7.9 1-7.9 1-6.6 1-4.5 1-2.7 1-0.6 1+1.3 1+3.4 1+5.3 1+7.3 1+7.9 1+7.9 1+7.9 1+8 1+7.9 1+7.9 1+7.9 1+4.7 1 0 1 0 1 0 1 0 1 0 1 0 1+0.1 1 0 1+0.1 1+0.1 1+0.1 1+0.1 1+0.1 1 0 1+0.1 1 0 1 0 1 0 1 0 1 0 1-0.1 1 0 1 0 1 0 1 0 1-0.1 1 0 1 0 1 0 1 0 1 0 1 0 1 0 1 0 1 0 1+0.1 1 0 1 0 1 0 1 0 1 0 1 0 1 0 1 0 1 0 1 0 1 0 1 0 1 0 1+0.1 1 0 1+0.1 1 0 1+0.1 1+0.1 1+0.1 1 0 1+0.1 1 0 1 0 1+0.1 1 0 1 0 1 0 1-0.1 1 0 1 0 1 0 1-0.1 1 0 1 0 1 0 1 0 1 0 1 0 1 0 1+0.1 1 0 1 0 1 0 1 0 1 0 1 0 1 0 1 0 1 0 1 0 1 0 1 0 1 0 1 0 1 0 1-0.1 1 0 1 0 1-0.1 1-0.1 1-0.1 1-0.1 1-0.1 1-0.1 1-0.1 1-0.1 1-0.1 1 0 1 0 1 0 1 0 1+0.1 1+0.1 1 0 1+0.1 1+0.1 1 0 1+0.1 1 0 1 0 1 0 1+0.1 1 0 1 0 1+0.1 1+0.1 1 0 1+0.1 1 0 1+0.1 1 0 1 0 1 0 1 0 1 0 1 0 1 0 1-0.1 1 0 1 0 1 0 1 0 1 0 1 0 1 0 1 0 1 0 1 0 1 0 1 0 1-0.1 1 0 1-0.1 1-0.1 1-7.4 1-9.1 1-9.2 1-9.1 1-9 1-9.1 1-9 1-9 1-7.9 1-5.6 1-3.3 1-1.1 1+1.2 1+3.4 1+5.7 1+8 1+9.1 1+9.1 1+9.1 1+9 1+9 1+9 1+9 1+7.1 1-0.2 1-0.2 1-0.2 1-0.3 1-0.4 1-0.3 1-0.4 1-0.2 1-0.2 1-0.1 1+0.1 1+0.2 1+0.3 1+0.3 1+0.4 1+0.3 1+0.2 1+0.2 1+0.2 1-7.2 1-9.1 1-9.1 1-9.2 1-9.1 1-9.1 1-9.2 1-9.2 1-8 1-5.8 1-3.5 1-1.1 1+1.1 1+3.4 1+5.8 1+8 1+9.2 1+9.2 1+9.3 1+9.2 1+9.3 1+9.2 1+9.3L1441.0 661.4"/></defs>
<use href="#cfcG" fill="#000000" fill-opacity="0.130" stroke="none"/>
<defs><path id="cfcT" d="M81.0 659.0L81.0 658.7l1 0 1+0.1 1 0 1 0 1 0 1 0 1-0.1 1 0 1-0.1 1 0 1-0.1 1-0.1 1-0.1 1-0.1 1 0 1-0.1 1-0.1 1-0.1 1 0 1 0 1-0.1 1 0 1 0 1+0.1 1 0 1 0 1+0.1 1+0.1 1 0 1+0.1 1+0.1 1 0 1+0.1 1+0.1 1 0 1+0.1 1+0.1 1 0 1+0.1 1 0 1 0 1 0 1+0.1 1 0 1 0 1 0 1 0 1 0 1-0.1 1 0 1 0 1 0 1 0 1-0.1 1 0 1 0 1 0 1 0 1 0 1 0 1 0 1 0 1+0.1 1 0 1 0 1 0 1 0 1 0 1 0 1 0 1 0 1 0 1-0.1 1 0 1-0.1 1-0.1 1 0 1-0.1 1-0.1 1 0 1-0.1 1 0 1 0 1 0 1+0.1 1 0 1 0 1+0.1 1 0 1+0.1 1+0.1 1 0 1+0.1 1 0 1 0 1+0.1 1 0 1+0.1 1 0 1 0 1 0 1 0 1 0 1+0.1 1 0 1 0 1 0 1-0.1 1 0 1 0 1 0 1 0 1 0 1 0 1 0 1 0 1 0 1 0 1 0 1 0 1-0.1 1 0 1-0.1 1 0 1 0 1-0.1 1 0 1 0 1-0.1 1+0.1 1 0 1 0 1 0 1 0 1+0.1 1 0 1 0 1 0 1+0.1 1 0 1 0 1 0 1 0 1+0.1 1 0 1 0 1 0 1 0 1 0 1 0 1 0 1-2.9 1-7.2 1-7.1 1-7.2 1-7.2 1-7.2 1-7.2 1-7.3 1-6.8 1-5.3 1-3.4 1-1.7 1+0.2 1+2 1+3.7 1+5.5 1+7.1 1+7.1 1+7.2 1+7.2 1+7.1 1+7.2 1+7.2 1+7.1 1+1.5 1 0 1 0 1 0 1-0.1 1 0 1 0 1 0 1 0 1-0.1 1 0 1 0 1-0.1 1 0 1 0 1 0 1-0.1 1 0 1 0 1-3.7 1-5.3 1-5.3 1-5.3 1-5.3 1-5.3 1-5.3 1-5.3 1-4.8 1-3.4 1-2.2 1-0.8 1+0.6 1+1.8 1+3.2 1+4.6 1+5.3 1+5.3 1+5.4 1+5.3 1+5.3 1+5.4 1+5.3 1+4.8 1 0 1-0.1 1 0 1 0 1 0 1-0.1 1 0 1 0 1 0 1+0.1 1 0 1 0 1+0.1 1 0 1 0 1+0.1 1-0.1 1 0 1 0 1 0 1-0.1 1 0 1-0.1 1 0 1-0.1 1 0 1 0 1 0 1+0.1 1 0 1+0.1 1 0 1+0.1 1+0.1 1 0 1+0.1 1+0.1 1 0 1 0 1+0.1 1 0 1 0 1 0 1-0.1 1 0 1 0 1 0 1 0 1 0 1 0 1 0 1 0 1 0 1+0.1 1 0 1 0 1 0 1-0.1 1 0 1-0.1 1 0 1-0.1 1 0 1 0 1 0 1-2.3 1-7.4 1-7.4 1-7.5 1-7.4 1-7.4 1-7.5 1-7.5 1-7.2 1-5.7 1-3.8 1-1.9 1 0 1+1.8 1+3.7 1+5.6 1+7.3 1+7.5 1+7.5 1+7.5 1+7.5 1+7.5 1+7.6 1+7.5 1+2.2 1+0.1 1 0 1 0 1-0.1 1-0.1 1-0.1 1-0.1 1-0.1 1-0.1 1-0.1 1 0 1 0 1+0.1 1+0.1 1+0.1 1+0.1 1+0.1 1 0 1-3.6 1-6.1 1-6.2 1-6.1 1-6.2 1-6.2 1-6.2 1-6.1 1-5.7 1-4.2 1-2.6 1-1.1 1+0.5 1+2 1+3.5 1+5.1 1+6.1 1+6.2 1+6.1 1+6.2 1+6.2 1+6.2 1+6.1 1+6.2 1 0 1 0 1-0.1 1-0.1 1 0 1-0.2 1-0.1 1-0.1 1-0.1 1-0.1 1 0 1 0 1 0 1+0.1 1+0.2 1+0.1 1+0.1 1+0.2 1+0.1 1+0.1 1 0 1 0 1 0 1 0 1 0 1-0.1 1 0 1-0.1 1-0.1 1 0 1-0.1 1 0 1 0 1 0 1 0 1 0 1 0 1+0.1 1 0 1-10.6 1-10.5 1-10.6 1-10.5 1-10.6 1-10.6 1-10.5 1-10.6 1-8.7 1-6.1 1-3.4 1-0.8 1+1.8 1+4.4 1+7.1 1+9.6 1+10.5 1+10.5 1+10.5 1+10.5 1+10.5 1+10.5 1+10.5 1+6.3 1 0 1+0.1 1 0 1+0.1 1 0 1+0.1 1 0 1+0.1 1+0.1 1 0 1 0 1+0.1 1 0 1 0 1 0 1 0 1 0 1 0 1 0 1 0 1 0 1-6.4 1-10.6 1-10.6 1-10.6 1-10.6 1-10.6 1-10.6 1-10.7 1-9.7 1-7.2 1-4.5 1-1.9 1+0.7 1+3.5 1+6 1+8.8 1+10.5 1+10.6 1+10.7 1+10.6 1+10.7 1+10.7 1+10.7 1+10.6 1+0.1 1 0 1-0.1 1-0.1 1-0.2 1-0.4 1-0.4 1-0.5 1-0.6 1-0.4 1-0.4 1-0.1 1 0 1+0.3 1+0.4 1+0.5 1+0.5 1+0.5 1+0.3 1+0.3 1+0.1 1 0 1 0 1-0.1 1 0 1 0 1 0 1+0.1 1+0.1 1+0.1 1+0.1 1+0.1 1 0 1 0 1+0.1 1 0 1-0.1 1 0 1 0 1-0.1 1 0 1-0.1 1-0.1 1-0.1 1 0 1-0.1 1-0.1 1-0.1 1 0 1-0.1 1 0 1 0 1 0 1 0 1 0 1+0.1 1+0.1 1+0.1 1 0 1+0.1 1+0.1 1+0.1 1 0 1+0.1 1 0 1 0 1 0 1-0.1 1-0.1 1-0.1 1-0.1 1 0 1-0.1 1 0 1 0 1 0 1 0 1+0.1 1+0.1 1+0.1 1+0.1 1 0 1 0 1 0 1 0 1 0 1-0.1 1 0 1 0 1 0 1 0 1 0 1 0 1+0.1 1 0 1 0 1 0 1 0 1-0.1 1 0 1-0.1 1-0.1 1-0.1 1-0.1 1-0.1 1 0 1 0 1 0 1+0.1 1 0 1+0.1 1+0.1 1+0.1 1 0 1 0 1+0.1 1 0 1-0.1 1 0 1 0 1 0 1 0 1 0 1 0 1 0 1 0 1 0 1+0.1 1 0 1 0 1 0 1+0.1 1 0 1 0 1 0 1 0 1-0.1 1 0 1 0 1+0.1 1 0 1 0 1+0.1 1 0 1 0 1+0.1 1 0 1+0.1 1 0 1 0 1 0 1-0.1 1 0 1 0 1-0.1 1-2.1 1-7.1 1-7 1-7.1 1-7 1-7 1-7 1-7 1-6.8 1-5.3 1-3.4 1-1.7 1 0 1+1.8 1+3.5 1+5.3 1+6.9 1+7 1+7.1 1+7 1+7.1 1+7 1+7 1+7 1+2.1 1 0 1 0 1-0.1 1 0 1-0.1 1 0 1-0.1 1-0.1 1-0.1 1 0 1-0.1 1 0 1 0 1 0 1 0 1+0.1 1+0.1 1 0 1-0.9 1-5.1 1-5 1-5.1 1-5.1 1-5.1 1-5.2 1-5.2 1-5.2 1-4.1 1-2.8 1-1.5 1-0.2 1+1.2 1+2.5 1+3.8 1+5 1+5.3 1+5.2 1+5.3 1+5.1 1+5.2 1+5.1 1+5 1+1.9 1-0.1 1-0.1 1-0.1 1-0.1 1-0.1 1-0.1 1 0 1+0.1 1 0 1+0.1 1+0.1 1+0.1 1+0.1 1+0.1 1 0 1+0.1 1 0 1 0 1 0 1 0 1 0 1 0 1 0 1 0 1 0 1 0 1 0 1 0 1+0.1 1 0 1 0 1 0 1 0 1+0.1 1 0 1-0.1 1 0 1 0 1 0 1-0.1 1 0 1-0.1 1 0 1-0.1 1 0 1 0 1 0 1 0 1+0.1 1 0 1 0 1 0 1 0 1 0 1 0 1-0.1 1-0.1 1-0.1 1-0.1 1-0.1 1 0 1-0.1 1 0 1 0 1+0.1 1-7.2 1-7.2 1-7.2 1-7.3 1-7.2 1-7.3 1-7.2 1-7.2 1-6 1-4.2 1-2.3 1-0.6 1+1.3 1+3.1 1+5 1+6.7 1+7.3 1+7.3 1+7.3 1+7.3 1+7.2 1+7.3 1+7.2 1+4.3 1 0 1 0 1 0 1 0 1 0 1 0 1+0.1 1 0 1+0.1 1 0 1+0.1 1 0 1 0 1 0 1 0 1+0.1 1 0 1 0 1 0 1 0 1-3.5 1-5.8 1-5.8 1-5.9 1-5.8 1-5.9 1-5.9 1-5.8 1-5.4 1-4 1-2.5 1-1.1 1+0.4 1+1.8 1+3.4 1+4.8 1+5.8 1+5.9 1+5.9 1+5.9 1+5.9 1+5.9 1+5.9 1+5.9 1 0 1 0 1 0 1 0 1 0 1-0.1 1 0 1-0.2 1-0.1 1-0.2 1-0.2 1-0.1 1-0.2 1-0.1 1-0.1 1 0 1+0.1 1+0.1 1+0.1 1+0.1 1 0 1+0.1 1 0 1 0 1 0 1 0 1 0 1 0 1 0 1 0 1+0.1 1 0 1+0.1 1 0 1+0.1 1+0.1 1 0 1+0.1 1+0.1 1 0 1-2.4 1-12.2 1-12.2 1-12.2 1-12.2 1-12.2 1-12.2 1-12.2 1-12 1-9.4 1-6.4 1-3.4 1-0.3 1+2.7 1+5.8 1+8.9 1+11.6 1+12.2 1+12.1 1+12.2 1+12.1 1+12.2 1+12.1 1+12.1 1+4.7 1-0.1 1-0.1 1-0.1 1 0 1-0.1 1 0 1 0 1 0 1 0 1 0 1 0 1 0 1 0 1 0 1 0 1 0 1 0 1 0 1 0 1-3.8 1-9.4 1-9.4 1-9.4 1-9.3 1-9.4 1-9.3 1-9.3 1-8.9 1-6.7 1-4.4 1-2 1+0.3 1+2.6 1+5 1+7.4 1+9.2 1+9.4 1+9.4 1+9.3 1+9.4 1+9.3 1+9.4 1+9.3 1+1.8 1-0.2 1-0.1 1-0.2 1-0.3 1-0.3 1-0.4 1-0.4 1-0.4 1-0.3 1-0.2 1-0.1 1+0.1 1+0.3 1+0.4 1+0.4 1+0.4 1+0.4 1+0.3 1+0.2 1+0.2 1+0.1 1+0.1 1+0.1 1+0.1 1 0 1 0 1+0.1 1-0.1 1 0 1 0 1-0.1 1 0 1-0.1 1 0 1 0 1 0 1 0 1 0 1+0.1 1+0.1 1 0 1+0.1 1 0 1+0.1 1 0 1 0 1 0 1 0 1-0.1 1 0 1-0.1 1 0 1-0.1 1-0.1 1-0.1 1-0.1 1-0.1 1-0.1 1-0.1 1-0.1 1-0.1 1-0.1 1 0 1 0 1 0 1+0.1 1+0.1 1+0.1 1+0.1 1+0.2 1+0.1 1 0 1+0.1 1 0 1 0 1+0.1 1-0.1 1 0 1 0 1 0 1 0 1 0 1+0.1 1 0 1 0 1 0 1+0.1 1-3.7 1-6.2 1-6.2 1-6.2 1-6.2 1-6.3 1-6.2 1-6.2 1-5.7 1-4.2 1-2.6 1-1.1 1+0.5 1+2.1 1+3.6 1+5.2 1+6.2 1+6.2 1+6.3 1+6.2 1+6.2 1+6.3 1+6.2 1+6.1 1 0 1 0 1 0 1 0 1 0 1-0.1 1 0 1 0 1-0.1 1-0.1 1-0.1 1-0.1 1-0.1 1-0.1 1 0 1-0.1 1 0 1-0.1 1 0 1+0.1 1 0 1 0 1+0.1 1 0 1 0 1 0 1 0 1 0 1-0.1 1 0 1 0 1 0 1+0.1 1 0 1+0.1 1 0 1+0.1 1+0.1 1+0.1 1 0 1+0.1 1 0 1+0.1 1 0 1 0 1 0 1-0.1 1 0 1 0 1 0 1-0.1 1 0 1+0.1 1 0 1 0 1 0 1 0 1 0 1+0.1 1 0 1 0 1 0 1 0 1 0 1 0 1 0 1 0 1 0 1 0 1 0 1 0 1 0 1+0.1 1 0 1+0.1 1 0 1 0 1+0.1 1 0 1 0 1 0 1 0 1 0 1 0 1 0 1 0 1-0.1 1 0 1 0 1 0 1-0.1 1 0 1 0 1 0 1 0 1 0 1+0.1 1 0 1 0 1 0 1 0 1 0 1 0 1 0 1 0 1-2.7 1-8.9 1-8.9 1-8.8 1-8.9 1-8.9 1-8.8 1-8.9 1-8.5 1-6.6 1-4.4 1-2.2 1+0.1 1+2.2 1+4.5 1+6.7 1+8.5 1+8.9 1+8.8 1+8.9 1+8.8 1+8.8 1+8.3 1-8 1-7.9 1-8 1-8 1-7.9 1-8 1-7.5 1-5.6 1-3.5 1-1.6 1+0.4 1+2.3 1+4.4 1+6.4 1+7.8 1+7.9 1+7.9 1+7.9 1+7.9 1+7.9 1+0.5 1-8.9 1-9 1-8.9 1-8.8 1-8.9 1-8.9 1-7.7 1-5.5 1-3.4 1-1 1+1.1 1+3.3 1+5.6 1+7.8 1+8.9 1+9 1+8.9 1+9 1+8.9 1+9 1+8.9 1+7.2 1 0 1+0.1 1 0 1 0 1 0 1 0 1-0.1 1 0 1-0.1 1-0.1 1-0.1 1-0.1 1-0.1 1-0.1 1-0.1 1 0 1 0 1 0 1+0.1 1+0.1 1+0.1 1+0.1 1+0.1 1+0.1 1 0 1-0.1 1-0.2 1-0.2 1-0.4 1-0.5 1-0.5 1-0.5 1-0.5 1-0.3 1-0.1 1+0.1 1+0.4 1+0.4 1+0.5 1+0.6 1+0.4 1+0.4 1+0.3 1+0.2 1+0.1 1 0 1 0 1-0.1 1 0 1-0.1 1 0 1-0.1 1 0 1 0 1 0 1+0.1 1 0 1+0.1 1 0 1+0.1 1 0 1 0 1 0 1 0 1 0 1 0 1-0.1 1 0 1-0.1 1 0 1-0.1 1-0.1 1-0.1 1 0 1-0.1 1-0.1 1-0.1 1-0.1 1 0 1-0.1 1-0.1 1 0 1 0 1 0 1 0 1+0.1 1+0.1 1+0.1 1+0.2 1+0.1 1+0.2 1+0.1 1+0.1 1+0.1 1+0.1 1 0 1+0.1 1 0 1 0 1 0 1 0 1 0 1 0 1-0.1 1 0 1-0.1 1-0.1 1-0.1 1-0.2 1-0.1 1-0.1 1 0 1-0.1 1-0.2 1-0.1 1-0.2 1-0.2 1-0.2 1-0.1 1-0.2 1 0 1+0.1 1+0.1 1+0.3 1+0.2 1+0.2 1+0.3 1+0.1 1+0.1 1+0.1 1 0 1 0 1-0.1 1 0 1-0.1 1 0 1-0.1 1 0 1-0.1 1 0 1 0 1 0 1 0 1 0 1+0.1 1+0.1 1+0.1 1+0.1 1+0.1 1 0 1+0.1 1+0.1 1+0.1 1+0.1 1 0L1441.0 659.0"/></defs>
<use href="#cfcT" fill="#f03c32" fill-opacity="0.130" stroke="none"/>
<use href="#cfcA" fill="none" stroke="#2acc2e" stroke-width="2.80" stroke-linejoin="round"/>
<use href="#cfcC" fill="none" stroke="#3d64e2" stroke-width="2.80" stroke-linejoin="round"/>
<use href="#cfcG" fill="none" stroke="#111111" stroke-width="2.80" stroke-linejoin="round"/>
<use href="#cfcT" fill="none" stroke="#f03c32" stroke-width="2.80" stroke-linejoin="round"/>
</g>
<rect x="96" y="662.6" width="1330" height="2" fill="#b4b4b4"/>
<g clip-path="url(#cfn)">
<text x="242.0" y="683" font-family='"Liberation Sans", sans-serif' font-size="20" fill="#777" text-anchor="middle">420</text>
<text x="462.0" y="683" font-family='"Liberation Sans", sans-serif' font-size="20" fill="#777" text-anchor="middle">410</text>
<text x="682.0" y="683" font-family='"Liberation Sans", sans-serif' font-size="20" fill="#777" text-anchor="middle">400</text>
<text x="902.0" y="683" font-family='"Liberation Sans", sans-serif' font-size="20" fill="#777" text-anchor="middle">390</text>
<text x="1122.0" y="683" font-family='"Liberation Sans", sans-serif' font-size="20" fill="#777" text-anchor="middle">380</text>
<text x="1342.0" y="683" font-family='"Liberation Sans", sans-serif' font-size="20" fill="#777" text-anchor="middle">370</text>
</g>
<g clip-path="url(#cm)">
<rect x="201.8" y="757" width="1.8" height="12.6" fill="#777"/>
<rect x="752.2" y="757" width="1.8" height="12.6" fill="#777"/>
<rect x="840.2" y="757" width="1.8" height="12.6" fill="#777"/>
<rect x="928.2" y="757" width="1.8" height="12.6" fill="#777"/>
<text x="103.4 125.4 147.4 169.4 191.4 213.4 235.4 257.4 279.4 301.4 323.4 345.4 367.4 389.4 411.4 433.4 455.4 477.4 499.4 521.4 543.4 565.4 587.4 609.4 631.4 653.4 675.4 697.4 719.4 741.4 763.4 785.4 807.4 829.4 851.4 873.4 895.4 917.4 939.4 961.4 983.4 1005.4 1027.4 1049.4 1071.4 1093.4 1115.4 1137.4 1159.4" y="792.9" font-family='"Liberation Sans", sans-serif' font-size="25" font-weight="bold" fill="#000" text-anchor="middle" >AAGCCACGAGAATATTGTGAACCTGCTGGGGGCGTGCACACTGTCAGGA</text>
<rect x="100.0" y="817.1" width="1072.5" height="3.8" fill="#666666"/>
<rect x="101.5" y="813.0" width="3.8" height="12.0" fill="#666666"/>
<rect x="123.5" y="813.0" width="3.8" height="12.0" fill="#666666"/>
<rect x="145.5" y="813.0" width="3.8" height="12.0" fill="#666666"/>
<rect x="167.5" y="805.0" width="3.8" height="28.0" fill="#666666"/>
<rect x="189.5" y="813.0" width="3.8" height="12.0" fill="#666666"/>
<rect x="211.5" y="813.0" width="3.8" height="12.0" fill="#666666"/>
<rect x="233.5" y="813.0" width="3.8" height="12.0" fill="#666666"/>
<rect x="255.5" y="813.0" width="3.8" height="12.0" fill="#666666"/>
<rect x="277.5" y="809.0" width="3.8" height="20.0" fill="#666666"/>
<rect x="299.5" y="813.0" width="3.8" height="12.0" fill="#666666"/>
<rect x="321.5" y="813.0" width="3.8" height="12.0" fill="#666666"/>
<rect x="343.5" y="813.0" width="3.8" height="12.0" fill="#666666"/>
<rect x="365.5" y="813.0" width="3.8" height="12.0" fill="#666666"/>
<rect x="387.5" y="805.0" width="3.8" height="28.0" fill="#666666"/>
<rect x="409.5" y="813.0" width="3.8" height="12.0" fill="#666666"/>
<rect x="431.5" y="813.0" width="3.8" height="12.0" fill="#666666"/>
<rect x="453.5" y="813.0" width="3.8" height="12.0" fill="#666666"/>
<rect x="475.5" y="813.0" width="3.8" height="12.0" fill="#666666"/>
<rect x="497.5" y="809.0" width="3.8" height="20.0" fill="#666666"/>
<rect x="519.5" y="813.0" width="3.8" height="12.0" fill="#666666"/>
<rect x="541.5" y="813.0" width="3.8" height="12.0" fill="#666666"/>
<rect x="563.5" y="813.0" width="3.8" height="12.0" fill="#666666"/>
<rect x="585.5" y="813.0" width="3.8" height="12.0" fill="#666666"/>
<rect x="607.5" y="805.0" width="3.8" height="28.0" fill="#666666"/>
<rect x="629.5" y="813.0" width="3.8" height="12.0" fill="#666666"/>
<rect x="651.5" y="813.0" width="3.8" height="12.0" fill="#666666"/>
<rect x="673.5" y="813.0" width="3.8" height="12.0" fill="#666666"/>
<rect x="695.5" y="813.0" width="3.8" height="12.0" fill="#666666"/>
<rect x="717.5" y="809.0" width="3.8" height="20.0" fill="#666666"/>
<rect x="739.5" y="813.0" width="3.8" height="12.0" fill="#666666"/>
<rect x="761.5" y="813.0" width="3.8" height="12.0" fill="#666666"/>
<rect x="783.5" y="813.0" width="3.8" height="12.0" fill="#666666"/>
<rect x="805.5" y="813.0" width="3.8" height="12.0" fill="#666666"/>
<rect x="827.5" y="805.0" width="3.8" height="28.0" fill="#666666"/>
<rect x="849.5" y="813.0" width="3.8" height="12.0" fill="#666666"/>
<rect x="871.5" y="813.0" width="3.8" height="12.0" fill="#666666"/>
<rect x="893.5" y="813.0" width="3.8" height="12.0" fill="#666666"/>
<rect x="915.5" y="813.0" width="3.8" height="12.0" fill="#666666"/>
<rect x="937.5" y="809.0" width="3.8" height="20.0" fill="#666666"/>
<rect x="959.5" y="813.0" width="3.8" height="12.0" fill="#666666"/>
<rect x="981.5" y="813.0" width="3.8" height="12.0" fill="#666666"/>
<rect x="1003.5" y="813.0" width="3.8" height="12.0" fill="#666666"/>
<rect x="1025.5" y="813.0" width="3.8" height="12.0" fill="#666666"/>
<rect x="1047.5" y="805.0" width="3.8" height="28.0" fill="#666666"/>
<rect x="1069.5" y="813.0" width="3.8" height="12.0" fill="#666666"/>
<rect x="1091.5" y="813.0" width="3.8" height="12.0" fill="#666666"/>
<rect x="1113.5" y="813.0" width="3.8" height="12.0" fill="#666666"/>
<rect x="1135.5" y="813.0" width="3.8" height="12.0" fill="#666666"/>
<rect x="1157.5" y="809.0" width="3.8" height="20.0" fill="#666666"/>
<text x="103.4 125.4 147.4 169.4 191.4 213.4 235.4 257.4 279.4 301.4 323.4 345.4 367.4 389.4 411.4 433.4 455.4 477.4 499.4 521.4 543.4 565.4 587.4 609.4 631.4 653.4 675.4 697.4 719.4 741.4 763.4 785.4 807.4 829.4 851.4 873.4 895.4 917.4 939.4 961.4 983.4 1005.4 1027.4 1049.4 1071.4 1093.4 1115.4 1137.4 1159.4" y="866.8" font-family='"Liberation Sans", sans-serif' font-size="25" font-weight="normal" fill="#000" text-anchor="middle" >TTCGGTGCTCTTATAACACTTGGACGACCCCCGCACGTGTGACAGTCCT</text>
<rect x="100" y="891" width="1072.5" height="29.8" fill="#fdd082"/>
<text x="147.4 213.4 279.4 345.4 411.4 477.4 543.4 609.4 675.4 741.4 807.4 873.4 939.4 1005.4 1071.4 1137.4" y="913.0" font-family='"Liberation Sans", sans-serif' font-size="22" font-weight="normal" fill="#000" text-anchor="middle" >SHENIVNLLGACTLSG</text>
<text x="103.4 125.4 147.4 169.4 191.4 213.4 235.4 257.4 279.4 301.4 323.4 345.4 367.4 389.4 411.4 433.4 455.4 477.4 499.4 521.4 543.4 565.4 587.4 609.4 631.4 653.4 675.4 697.4 719.4 741.4 763.4 785.4 807.4 829.4 851.4 873.4 895.4 917.4 939.4 961.4 983.4 1005.4 1027.4 1049.4 1071.4 1093.4 1115.4 1137.4 1159.4" y="1074.5" font-family='"Liberation Sans", sans-serif' font-size="25" font-weight="bold" fill="#000" text-anchor="middle" >AAGCCACGAGAATATTGTGAACCTGCTGGGGGCGTGCACACTGTCAGGA</text>
<rect x="100" y="1091.2" width="1072.5" height="2" fill="#a8a8a8"/>
<rect x="553.7" y="1105.5" width="24.3" height="30.8" rx="1" fill="#f4b1b7" stroke="#d41c22" stroke-width="2"/>
<text x="103.4 125.4 147.4 169.4 191.4 213.4 235.4 257.4 279.4 301.4 323.4 345.4 367.4 389.4 411.4 433.4 455.4 477.4 499.4 521.4 543.4 565.4 587.4 609.4 631.4 653.4 675.4 697.4 719.4 741.4 763.4 785.4 807.4 829.4 851.4 873.4 895.4 917.4 939.4 961.4 983.4 1005.4 1027.4 1049.4 1071.4 1093.4 1115.4 1137.4 1159.4" y="1130.5" font-family='"Liberation Sans", sans-serif' font-size="25" font-weight="normal" fill="#000" text-anchor="middle" >AAGCCACGAGAATATTGTGAAACTGCTGGGGGCGTGCACACTGTCAGGA</text>
<line x1="167.0" y1="1145.0" x2="167.0" y2="1334.0" stroke="#c8c8c8" stroke-width="2" stroke-dasharray="7.5 4.8"/>
<line x1="387.0" y1="1145.0" x2="387.0" y2="1334.0" stroke="#c8c8c8" stroke-width="2" stroke-dasharray="7.5 4.8"/>
<line x1="607.0" y1="1145.0" x2="607.0" y2="1334.0" stroke="#c8c8c8" stroke-width="2" stroke-dasharray="7.5 4.8"/>
<line x1="827.0" y1="1145.0" x2="827.0" y2="1334.0" stroke="#c8c8c8" stroke-width="2" stroke-dasharray="7.5 4.8"/>
<line x1="1047.0" y1="1145.0" x2="1047.0" y2="1334.0" stroke="#c8c8c8" stroke-width="2" stroke-dasharray="7.5 4.8"/>
</g>
<g clip-path="url(#cmc)">
<defs><path id="cmcA" d="M93.5 1334.2L93.5 1290.5l1-12.4 1-12.4 1-12 1-9.2 1-6.1 1-3.1 1+0.1 1+3.1 1+6.2 1+9.2 1+11.9 1+12.3 1+12.2 1+12.2 1+12.3 1+12.2 1+6.1 1-9.4 1-10.4 1-10.4 1-10.4 1-10.5 1-10.4 1-10.4 1-10.4 1-8.8 1-6.3 1-3.6 1-1 1+1.6 1+4.2 1+6.8 1+9.5 1+10.4 1+10.5 1+10.5 1+10.4 1+10.5 1+10.5 1+10.4 1+7.4 1 0 1+0.1 1 0 1+0.1 1 0 1 0 1 0 1 0 1 0 1 0 1 0 1 0 1-0.1 1 0 1-0.1 1-0.1 1 0 1-0.1 1 0 1-0.1 1 0 1 0 1 0 1+0.1 1 0 1+0.1 1 0 1+0.1 1 0 1+0.1 1 0 1 0 1-0.1 1 0 1-0.1 1 0 1-0.1 1-0.1 1-0.1 1-0.1 1-0.1 1-0.1 1 0 1 0 1 0 1+0.1 1+0.1 1 0 1+0.1 1+0.1 1+0.1 1+0.1 1+0.1 1+0.1 1 0 1+0.1 1 0 1 0 1 0 1-0.1 1 0 1-0.1 1 0 1-0.1 1-0.1 1-0.1 1-2.1 1-4.9 1-4.9 1-4.9 1-4.9 1-4.9 1-4.8 1-4.9 1-4.6 1-3.4 1-2.3 1-1.1 1+0.2 1+1.4 1+2.5 1+3.8 1+4.7 1+4.8 1+4.8 1+4.9 1+4.8 1+4.8 1+4.9 1+4.8 1+1.1 1 0 1+0.1 1+0.1 1 0 1+0.1 1 0 1+0.1 1 0 1-0.1 1 0 1-0.1 1 0 1-0.1 1-0.1 1 0 1-0.1 1 0 1 0 1+0.1 1 0 1+0.1 1+0.1 1+0.1 1+0.1 1+0.1 1+0.1 1+0.1 1 0 1 0 1+0.1 1 0 1 0 1 0 1-0.1 1 0 1 0 1 0 1 0 1 0 1 0 1-0.1 1 0 1-2.5 1-8.6 1-8.6 1-8.6 1-8.6 1-8.6 1-8.6 1-8.6 1-8.3 1-6.4 1-4.4 1-2.1 1 0 1+2.1 1+4.3 1+6.5 1+8.3 1+8.6 1+8.7 1+8.6 1+8.6 1+8.5 1+8.6 1+8.5 1+2.6 1-0.1 1 0 1-0.1 1-0.1 1-0.1 1-0.1 1-0.1 1-0.1 1 0 1 0 1 0 1+0.1 1+0.1 1+0.1 1+0.1 1+0.1 1+0.1 1+0.1 1 0 1+0.1 1-5.2 1-8.7 1-8.8 1-8.7 1-8.8 1-8.7 1-8.8 1-8.7 1-8.1 1-5.9 1-3.8 1-1.5 1+0.6 1+2.9 1+5 1+7.2 1+8.7 1+8.8 1+8.7 1+8.8 1+8.7 1+8.8 1+8.7 1-3 1-9.7 1-9.8 1-9.8 1-9.8 1-9.9 1-9.8 1-9.6 1-7.6 1-5.1 1-2.7 1-0.2 1+2.2 1+4.7 1+7.1 1+9.4 1+9.8 1+9.8 1+9.8 1+9.7 1+9.8 1+9.8 1+9.7 1+3.9 1 0 1 0 1 0 1 0 1-0.1 1 0 1 0 1 0 1 0 1 0 1 0 1 0 1-0.1 1 0 1 0 1 0 1 0 1 0 1 0 1-7.2 1-8 1-8 1-8 1-8 1-8 1-8 1-7.9 1-6.8 1-4.8 1-2.8 1-0.8 1+1.2 1+3.3 1+5.2 1+7.2 1+8 1+8 1+8 1+8 1+8 1+8 1+8 1+5.6 1 0 1 0 1 0 1 0 1 0 1+0.1 1 0 1 0 1 0 1+0.1 1 0 1 0 1 0 1 0 1 0 1 0 1 0 1 0 1 0 1 0 1 0 1 0 1 0 1 0 1 0 1 0 1 0 1 0 1 0 1 0 1 0 1 0 1 0 1 0 1 0 1 0 1 0 1 0 1-0.1 1 0 1 0 1 0 1 0 1-0.1 1 0 1 0 1 0 1-0.1 1 0 1 0 1 0 1-0.1 1 0 1 0 1 0 1 0 1 0 1 0 1 0 1 0 1 0 1+0.1 1-0.1 1 0 1 0 1 0 1-0.1 1 0 1 0 1-0.1 1 0 1 0 1 0 1-0.1 1 0 1 0 1-0.1 1 0 1-0.1 1 0 1-0.1 1 0 1-0.1 1 0 1 0 1 0 1+0.1 1+0.1 1+0.1 1+0.1 1+0.1 1+0.1 1+0.1 1 0 1+0.1 1 0 1 0 1 0 1 0 1 0 1-0.1 1 0 1 0 1+0.1 1-9.5 1-9.4 1-9.3 1-9.4 1-9.4 1-9.5 1-9.4 1-8.7 1-6.4 1-4.1 1-1.8 1+0.6 1+2.9 1+5.3 1+7.6 1+9.3 1+9.4 1+9.5 1+9.5 1+9.6 1+9.6 1+9.6 1-1.8 1-9.3 1-9.4 1-9.4 1-9.4 1-9.4 1-9.5 1-9.3 1-7.3 1-5 1-2.6 1-0.3 1+2.1 1+4.5 1+6.8 1+9 1+9.4 1+9.4 1+9.4 1+9.4 1+9.4 1+9.4 1+7.5 1-2.5 1-6.2 1-6.2 1-6.2 1-6.1 1-6.1 1-6.1 1-6.1 1-5.7 1-4.4 1-2.9 1-1.3 1+0.2 1+1.8 1+3.2 1+4.8 1+6 1+6.2 1+6.1 1+6.2 1+6.1 1+6.1 1+6.2 1+6.1 1+1.1 1 0 1-0.2 1-0.1 1-0.1 1-0.1 1-0.1 1 0 1-0.1 1+0.1 1 0 1+0.1 1+0.1 1+0.1 1 0 1+0.1 1 0 1+0.1 1 0 1+0.1 1 0 1 0 1+0.1 1 0 1 0 1+0.1 1 0 1 0 1 0 1 0 1-0.1 1 0 1 0 1-0.1 1-0.1 1 0 1-0.1 1-0.1 1 0 1-0.1 1 0 1 0 1-0.1 1 0 1+0.1 1 0 1 0 1+0.1 1 0 1 0 1+0.1 1 0 1+0.1 1 0 1 0 1 0 1 0 1 0 1 0 1 0 1 0 1 0 1 0 1-0.1 1 0 1 0 1 0 1 0 1+0.1 1 0 1 0 1 0 1 0 1 0 1 0 1 0 1 0 1 0 1 0 1 0 1 0 1 0 1 0 1 0 1 0 1 0 1+0.1 1 0 1 0 1+0.1 1 0 1 0 1 0 1 0 1 0 1 0 1 0 1-0.1 1 0 1-0.1 1-0.1 1 0 1-0.1 1 0 1-0.1 1 0 1+0.1 1 0 1+0.1 1+0.1 1 0 1+0.1 1+0.1 1 0 1+0.1 1 0 1 0 1 0 1 0 1 0 1+0.1 1 0 1-0.1 1 0 1 0 1-0.1 1 0 1-0.1 1-0.1 1-0.1 1 0 1-0.1 1-0.1 1-0.1 1-0.1 1 0 1-0.1 1 0 1 0 1 0 1+0.1 1 0 1+0.1 1 0 1+0.1 1+0.1 1+0.1 1 0 1+0.1 1 0 1+0.1 1 0 1 0 1-0.1 1 0 1 0 1 0 1 0 1 0 1 0 1+0.1 1 0 1+0.1 1 0 1 0 1 0 1 0 1 0 1 0 1-0.1 1-0.1 1 0 1-0.1 1-0.1 1-0.1 1 0 1-0.1 1 0 1 0 1 0 1 0 1 0 1+0.1 1 0 1 0 1 0 1-0.1 1 0 1 0 1+0.1 1 0 1+0.1 1+0.1 1+0.1 1+0.1 1+0.1 1+0.1 1 0 1+0.1 1 0 1 0 1 0 1 0 1 0 1 0 1-0.1 1 0 1 0 1 0 1 0 1 0 1 0 1 0 1+0.1 1 0 1 0 1 0 1 0 1-0.1 1 0 1-0.1 1 0 1-0.1 1-0.1 1-0.1 1 0 1-0.1 1 0 1 0 1 0 1 0 1 0 1-0.1 1 0 1 0 1-0.1 1 0 1 0 1-0.1 1 0 1 0 1 0 1 0 1 0 1+0.1 1 0 1+0.1 1 0 1+0.1 1 0 1+0.1 1 0 1+0.1 1 0 1 0 1 0 1 0 1 0 1-0.1 1 0 1 0 1-0.1 1 0 1-0.1 1-0.1 1-0.2 1-0.3 1-0.3 1-0.4 1-0.4 1-0.3 1-0.3 1-0.1 1 0 1+0.2 1+0.4 1+0.4 1+0.4 1+0.4 1+0.4 1+0.2 1+0.2 1+0.1 1+0.1 1 0 1 0 1 0 1 0 1 0 1 0 1+0.1 1 0 1 0 1 0 1+0.1 1 0 1 0 1 0 1 0 1 0 1 0 1 0 1-0.1 1 0 1 0 1 0 1-0.1 1 0 1-0.1 1 0 1-0.1 1-0.1 1-0.1 1-0.1 1 0 1 0 1 0 1+0.1 1+0.1 1+0.1 1+0.1 1+0.1 1+0.2 1 0 1+0.1 1+0.1 1 0 1 0 1-2.3 1-5.7 1-5.6 1-5.7 1-5.7 1-5.7 1-5.7 1-5.6 1-5.4 1-4 1-2.6 1-1.2 1+0.2 1+1.6 1+3 1+4.3 1+5.5 1+5.5 1+5.6 1+5.5 1+5.6 1+5.6 1+5.6 1+5.7 1+1.1 1+0.1 1 0 1 0 1+0.1 1 0 1 0 1-0.1 1 0 1 0 1 0 1 0 1+0.1 1 0 1 0 1 0 1+0.1 1 0 1 0 1+0.1 1 0 1-0.1 1-2.8 1-4.8 1-4.8 1-4.8 1-4.8 1-4.8 1-4.9 1-4.8 1-4.4 1-3.2 1-2 1-0.8 1+0.5 1+1.6 1+2.8 1+4 1+4.7 1+4.8 1+4.8 1+4.7 1+4.7 1+4.7 1+4.7 1+4.7 1-0.1 1 0 1 0 1-0.1 1 0 1 0 1 0 1 0 1+0.1 1 0 1 0 1+0.1 1 0 1 0 1 0 1+0.1 1 0 1 0 1 0 1+0.1 1 0 1 0 1+0.1 1 0 1 0 1 0 1 0 1 0 1-0.1 1 0 1-0.1 1-0.1 1-0.1 1-0.1 1-0.1 1-0.1 1-0.1 1-0.1 1-0.1 1-0.1 1-0.1 1-0.1 1-0.1 1 0 1-0.1 1 0 1 0 1 0 1 0 1+0.1 1 0 1 0 1+0.1 1+0.1 1 0 1+0.1 1 0 1+0.1 1+0.1 1 0 1 0 1+0.1 1 0 1 0 1+0.1 1 0 1 0 1 0 1 0 1 0 1 0 1+0.1 1 0 1 0 1 0 1 0 1 0 1 0 1 0 1 0 1 0 1+0.1 1 0 1 0 1 0 1+0.1 1 0 1+0.1 1 0 1 0 1+0.1 1 0 1 0 1 0 1-0.1 1 0 1-0.1 1-0.1 1-0.1 1-0.1 1-0.1 1-0.1 1-0.1 1 0 1 0 1 0 1 0 1+0.1 1-0.7 1-8.1 1-8 1-8.1 1-8 1-8.1 1-8.1 1-8 1-8 1-6.5 1-4.5 1-2.4 1-0.4 1+1.7 1+3.6 1+5.7 1+7.6 1+8.1 1+8 1+8.1 1+8.1 1+8 1+8.1 1+8 1+4 1-0.1 1-0.2 1-0.1 1-0.1 1-0.2 1-0.1 1 0 1 0 1 0 1+0.1 1+0.2 1+0.2 1+0.1 1+0.2 1+0.2 1+0.2 1+0.1 1+0.1 1 0 1+0.1 1 0 1 0 1+0.1 1 0 1 0 1 0 1 0 1 0 1 0 1 0 1 0 1 0 1 0 1 0 1+0.1 1 0 1-0.1 1 0 1 0 1 0 1 0 1-2.4 1-4.8 1-4.8 1-4.8 1-4.8 1-4.8 1-4.8 1-4.8 1-4.5 1-3.4 1-2.2 1-1 1+0.1 1+1.4 1+2.5 1+3.8 1+4.6 1+4.7 1+4.7 1+4.8 1+4.7 1+4.8 1+4.8 1+4.8 1+0.5 1 0 1+0.1 1 0 1 0 1+0.1 1 0 1 0 1+0.1 1 0 1+0.1 1 0 1+0.1 1 0 1+0.1 1 0L1187.5 1334.2"/></defs>
<use href="#cmcA" fill="#2acc2e" fill-opacity="0.130" stroke="none"/>
<defs><path id="cmcC" d="M93.5 1335.0L93.5 1334.4l1 0 1+0.1 1 0 1 0 1 0 1+0.1 1 0 1 0 1-0.1 1 0 1 0 1 0 1-0.1 1 0 1 0 1 0 1 0 1 0 1 0 1 0 1-0.1 1 0 1 0 1 0 1-0.1 1 0 1-0.1 1 0 1-0.1 1 0 1 0 1 0 1 0 1+0.1 1 0 1+0.1 1+0.1 1+0.1 1 0 1+0.1 1+0.1 1+0.1 1 0 1+0.1 1 0 1 0 1 0 1 0 1-0.1 1 0 1-0.1 1 0 1-0.1 1 0 1-0.1 1 0 1 0 1-0.1 1+0.1 1 0 1 0 1 0 1 0 1 0 1 0 1-4.2 1-8.5 1-8.5 1-8.5 1-8.6 1-8.5 1-8.6 1-8 1-6 1-3.8 1-1.8 1+0.5 1+2.5 1+4.7 1+6.8 1+8.5 1+8.5 1+8.5 1+8.6 1+8.5 1+8.5 1+8.5 1-5.3 1-12.3 1-12.4 1-12.3 1-12.4 1-12.4 1-12.3 1-12.4 1-10.8 1-7.7 1-4.7 1-1.5 1+1.5 1+4.7 1+7.7 1+10.8 1+12.3 1+12.2 1+12.3 1+12.3 1+12.2 1+12.3 1+12.3 1+6.2 1 0 1 0 1+0.1 1 0 1+0.1 1+0.1 1 0 1+0.1 1 0 1 0 1 0 1-0.1 1 0 1 0 1 0 1 0 1 0 1 0 1 0 1 0 1-6.2 1-6.2 1-6.3 1-6.2 1-6.2 1-6.3 1-6.2 1-6.2 1-5.1 1-3.5 1-2 1-0.4 1+1.1 1+2.7 1+4.3 1+5.8 1+6.3 1+6.3 1+6.3 1+6.3 1+6.2 1+6.3 1+6.3 1+3.7 1 0 1 0 1-0.1 1-0.1 1-0.1 1-0.1 1-0.2 1-0.1 1-0.1 1-0.1 1 0 1 0 1+0.1 1+0.2 1+0.1 1+0.1 1+0.1 1+0.1 1 0 1 0 1 0 1 0 1-0.1 1 0 1-0.1 1 0 1-0.1 1 0 1-0.1 1 0 1-0.1 1 0 1 0 1-0.1 1 0 1 0 1 0 1 0 1 0 1-0.1 1 0 1 0 1-0.1 1 0 1 0 1 0 1 0 1 0 1 0 1+0.1 1 0 1+0.1 1+0.1 1 0 1+0.1 1+0.1 1 0 1 0 1 0 1 0 1 0 1-0.1 1 0 1-0.1 1 0 1 0 1 0 1+0.1 1 0 1+0.1 1 0 1 0 1+0.1 1-0.1 1 0 1 0 1-0.1 1 0 1 0 1-0.1 1 0 1+0.1 1 0 1+0.1 1 0 1+0.1 1 0 1+0.1 1 0 1 0 1 0 1 0 1-0.1 1 0 1-0.1 1 0 1 0 1 0 1+0.1 1 0 1+0.1 1+0.1 1 0 1+0.1 1 0 1+0.1 1 0 1 0 1+0.1 1 0 1 0 1 0 1 0 1 0 1 0 1 0 1 0 1 0 1 0 1 0 1 0 1 0 1 0 1 0 1-0.1 1 0 1 0 1-0.1 1 0 1-0.1 1-0.1 1 0 1-0.1 1-0.1 1-0.1 1-0.1 1-0.1 1 0 1 0 1 0 1 0 1 0 1+0.1 1+0.1 1 0 1+0.1 1+0.1 1 0 1 0 1+0.1 1 0 1 0 1-0.1 1 0 1-0.1 1 0 1-0.1 1-0.1 1-0.1 1-0.1 1 0 1-0.1 1+0.1 1 0 1+0.1 1+0.1 1+0.1 1+0.1 1+0.1 1+0.2 1 0 1+0.1 1 0 1+0.1 1 0 1 0 1-0.1 1 0 1 0 1-0.1 1 0 1 0 1-0.1 1 0 1-0.1 1 0 1 0 1 0 1 0 1 0 1+0.1 1 0 1 0 1+0.1 1 0 1+0.1 1 0 1 0 1 0 1+0.1 1 0 1 0 1 0 1-0.1 1 0 1 0 1 0 1 0 1 0 1 0 1 0 1 0 1 0 1 0 1-0.1 1 0 1 0 1-0.1 1 0 1 0 1+0.1 1 0 1 0 1+0.1 1 0 1+0.1 1 0 1 0 1 0 1 0 1-0.1 1 0 1-0.1 1 0 1 0 1-0.1 1 0 1-0.1 1 0 1-0.1 1-0.1 1 0 1-0.1 1-0.1 1-0.1 1 0 1-0.1 1-0.1 1 0 1 0 1 0 1+0.1 1 0 1+0.1 1+0.1 1+0.1 1+0.1 1+0.1 1 0 1 0 1 0 1 0 1 0 1 0 1 0 1-0.1 1 0 1 0 1 0 1 0 1 0 1 0 1 0 1 0 1 0 1 0 1+0.1 1 0 1 0 1 0 1 0 1+0.1 1 0 1 0 1 0 1+0.1 1 0 1 0 1 0 1 0 1 0 1 0 1 0 1 0 1 0 1-0.1 1 0 1 0 1-0.1 1 0 1 0 1 0 1 0 1-0.1 1 0 1 0 1 0 1 0 1 0 1 0 1+0.1 1 0 1 0 1+0.1 1 0 1+0.1 1 0 1+0.1 1 0 1+0.1 1 0 1 0 1 0 1-0.1 1 0 1-0.1 1 0 1-0.1 1-6.5 1-6.4 1-6.4 1-6.4 1-6.3 1-6.4 1-6.3 1-6.3 1-5.2 1-3.6 1-2 1-0.4 1+1.2 1+2.7 1+4.3 1+5.9 1+6.4 1+6.4 1+6.3 1+6.4 1+6.4 1+6.3 1+6.3 1+3.8 1 0 1-0.1 1-0.1 1-0.1 1-0.1 1-0.1 1-0.1 1-0.1 1 0 1 0 1 0 1+0.1 1+0.1 1+0.1 1+0.1 1+0.1 1+0.1 1 0 1+0.1 1 0 1+0.1 1 0 1 0 1 0 1 0 1 0 1 0 1 0 1-0.1 1 0 1 0 1 0 1 0 1 0 1-0.1 1 0 1 0 1 0 1 0 1 0 1 0 1 0 1 0 1 0 1-5.8 1-6.5 1-6.6 1-6.5 1-6.5 1-6.5 1-6.6 1-6.5 1-5.6 1-3.9 1-2.3 1-0.7 1+0.9 1+2.6 1+4.2 1+5.8 1+6.5 1+6.6 1+6.5 1+6.5 1+6.5 1+6.5 1+6.5 1+4.6 1+0.1 1 0 1 0 1+0.1 1 0 1+0.1 1+0.1 1 0 1 0 1+0.1 1 0 1 0 1 0 1 0 1-0.1 1 0 1 0 1 0 1-0.1 1 0 1 0 1 0 1-0.1 1 0 1 0 1 0 1+0.1 1 0 1-0.1 1 0 1 0 1 0 1-0.1 1 0 1-0.1 1-0.1 1 0 1-0.1 1 0 1 0 1 0 1 0 1 0 1 0 1 0 1 0 1 0 1 0 1 0 1-0.1 1 0 1 0 1-0.1 1 0 1 0 1 0 1 0 1 0 1 0 1+0.1 1 0 1 0 1 0 1 0 1 0 1 0 1 0 1 0 1-0.1 1 0 1-0.1 1 0 1 0 1 0 1 0 1 0 1+0.1 1 0 1+0.1 1 0 1+0.1 1 0 1+0.1 1 0 1 0 1 0 1 0 1-0.1 1 0 1-0.1 1-0.1 1 0 1 0 1-0.1 1 0 1 0 1+0.1 1 0 1 0 1+0.1 1 0 1+0.1 1 0 1 0 1+0.1 1 0 1 0 1 0 1-0.1 1 0 1 0 1+0.1 1 0 1 0 1 0 1+0.1 1 0 1+0.1 1 0 1+0.1 1 0 1+0.1 1 0 1 0 1+0.1 1-1.2 1-6 1-6.1 1-6 1-6 1-6.1 1-6.1 1-6 1-6 1-4.8 1-3.3 1-1.7 1-0.3 1+1.2 1+2.8 1+4.3 1+5.8 1+6 1+6.2 1+6.1 1+6.2 1+6.2 1+6.1 1+6.2 1+2.5 1+0.1 1+0.1 1 0 1 0 1 0 1 0 1+0.1 1-0.1 1 0 1 0 1 0 1 0 1 0 1 0 1 0 1 0 1-0.1 1 0 1 0 1-0.1 1-0.1 1-0.1 1 0 1-0.1 1-0.1 1-0.1 1-0.1 1-0.1 1 0 1-0.1 1 0 1 0 1 0 1 0 1 0 1+0.1 1 0 1+0.1 1+0.1 1 0 1+0.1 1+0.1 1 0 1+0.1 1 0 1 0 1 0 1 0 1 0 1 0 1-0.1 1-0.1 1 0 1-0.1 1 0 1 0 1 0 1 0 1+0.1 1+0.1 1+0.1 1+0.1 1+0.1 1-8.8 1-11.1 1-11.1 1-11.1 1-11.1 1-11.1 1-11.1 1-11.2 1-9.8 1-6.9 1-4.3 1-1.4 1+1.3 1+4.1 1+6.9 1+9.7 1+11.1 1+11.1 1+11.1 1+11.2 1+11.1 1+11.2 1+11.1 1+9 1 0 1 0 1+0.1 1 0 1 0 1 0 1 0 1 0 1 0 1 0 1 0 1 0 1 0 1 0 1 0 1 0 1-0.1 1 0 1-0.1 1-0.1 1-0.2 1-0.1 1 0 1-0.1 1-11.2 1-11.1 1-11.1 1-11 1-11.1 1-11.1 1-11.1 1-11 1-9.2 1-6.4 1-3.7 1-0.9 1+1.9 1+4.7 1+7.5 1+10.2 1+11.1 1+11 1+11.1 1+11.1 1+11.1 1+11.1 1+11.1 1+6.7 1 0 1+0.1 1+0.1 1+0.1 1+0.1 1+0.1 1+0.1 1+0.1 1+0.1 1 0 1+0.1 1 0 1 0 1 0 1 0 1 0 1-0.1 1 0 1 0 1 0 1 0 1 0 1 0 1-0.1 1-6.5 1-6.6 1-6.7 1-6.6 1-6.6 1-6.6 1-6.6 1-6.6 1-5.4 1-3.8 1-2.1 1-0.5 1+1.2 1+2.9 1+4.5 1+6.2 1+6.6 1+6.6 1+6.7 1+6.6 1+6.5 1+6.6 1+6.5 1+3.9 1 0 1-0.1 1-0.1 1 0 1-0.1 1 0 1 0 1 0 1 0 1 0 1+0.1 1 0 1+0.1 1+0.1 1 0 1+0.1 1 0 1+0.1 1 0 1 0 1 0 1-0.1 1 0 1-0.1 1-0.1 1-0.1 1-0.1 1-0.1 1-0.1 1 0 1-0.1 1 0 1 0 1 0 1+0.1 1 0 1+0.1 1+0.1 1+0.1 1+0.1 1+0.1 1+0.1 1 0 1+0.1 1 0 1 0 1 0 1 0 1 0 1 0 1-0.1 1-0.1 1 0 1-0.1 1-0.1 1-0.1 1-0.1 1-0.1 1-0.1 1-0.1 1 0 1-6.9 1-11.4 1-11.4 1-11.4 1-11.3 1-11.4 1-11.3 1-11.3 1-10.5 1-7.6 1-4.8 1-1.9 1+0.9 1+3.7 1+6.6 1+9.4 1+11.4 1+11.4 1+11.4 1+11.4 1+11.4 1+11.4 1+11.4 1+11.4 1 0 1 0 1 0 1-0.1 1 0 1 0 1 0 1 0 1 0 1+0.1 1 0 1+0.1 1+0.1 1 0 1+0.1 1 0 1 0 1+0.1 1 0 1 0 1 0 1 0 1 0 1-0.1 1 0 1 0 1 0 1-0.1 1-0.1 1 0 1-0.2 1-0.1 1-0.1 1-0.1 1-0.1 1-0.1 1 0 1 0 1 0 1+0.1 1+0.1 1+0.2 1+0.1 1+0.1 1+0.1 1+0.1 1 0 1+0.1 1 0 1-0.1 1 0 1-0.1 1 0 1-0.1 1-0.1 1-0.1 1-0.1 1-0.1 1 0 1-0.1 1-0.1 1 0 1-0.1 1 0 1 0 1 0 1+0.1 1 0 1+0.1 1+0.1 1+0.1 1+0.1 1 0 1+0.1 1+0.1 1 0 1 0 1 0 1-0.1 1-0.1 1-0.1 1-0.1 1-0.1 1-7.3 1-9.1 1-9 1-9 1-8.9 1-8.9 1-9 1-8.9 1-7.8 1-5.5 1-3.4 1-1.1 1+1.2 1+3.4 1+5.7 1+7.9 1+9.1 1+9.1L1187.5 1335.0"/></defs>
<use href="#cmcC" fill="#3d64e2" fill-opacity="0.130" stroke="none"/>
<defs><path id="cmcG" d="M93.5 1335.2L93.5 1335.0l1 0 1 0 1+0.1 1 0 1 0 1-0.1 1 0 1 0 1-0.1 1 0 1-0.1 1-0.1 1-0.1 1-0.1 1-0.1 1-0.1 1 0 1-0.1 1 0 1-0.1 1 0 1+0.1 1 0 1+0.1 1+0.1 1 0 1+0.1 1+0.1 1+0.1 1+0.1 1 0 1+0.1 1 0 1 0 1 0 1 0 1+0.1 1 0 1 0 1 0 1+0.1 1-4.9 1-5.4 1-5.4 1-5.5 1-5.4 1-5.5 1-5.4 1-5.5 1-4.7 1-3.2 1-2 1-0.5 1+0.7 1+2.2 1+3.5 1+4.9 1+5.4 1+5.4 1+5.4 1+5.5 1+5.4 1+5.4 1+5.4 1+3.8 1 0 1 0 1 0 1+0.1 1 0 1 0 1+0.1 1+0.1 1 0 1 0 1 0 1+0.1 1-0.1 1 0 1 0 1-0.1 1 0 1-0.1 1-0.1 1 0 1-0.1 1 0 1-0.1 1 0 1 0 1 0 1-0.1 1-0.1 1-0.1 1-0.1 1-0.3 1-0.3 1-0.4 1-0.4 1-0.3 1-0.3 1-0.1 1 0 1+0.2 1+0.4 1+0.4 1+0.4 1+0.5 1+0.3 1+0.3 1+0.2 1+0.1 1+0.1 1-0.1 1 0 1-0.1 1-0.1 1-0.1 1-0.1 1 0 1 0 1+0.1 1 0 1+0.1 1+0.1 1+0.1 1+0.1 1 0 1+0.1 1 0 1 0 1 0 1 0 1 0 1 0 1 0 1 0 1 0 1 0 1 0 1 0 1-0.1 1 0 1-0.1 1 0 1-0.1 1-0.1 1-0.1 1-0.1 1-0.1 1-0.1 1 0 1-1 1-9.3 1-9.3 1-9.3 1-9.3 1-9.2 1-9.2 1-9.3 1-9.1 1-7.3 1-5.1 1-2.7 1-0.4 1+1.9 1+4.2 1+6.6 1+8.7 1+9.3 1+9.4 1+9.3 1+9.3 1+9.3 1+9.3 1+9.3 1+4.7 1 0 1+0.1 1 0 1 0 1+0.1 1 0 1 0 1 0 1 0 1 0 1 0 1-0.1 1 0 1 0 1 0 1-0.1 1 0 1-0.1 1-0.1 1-0.1 1-8.4 1-9.4 1-9.3 1-9.4 1-9.3 1-9.2 1-9.3 1-9.2 1-7.9 1-5.5 1-3.2 1-0.8 1+1.4 1+3.7 1+6.1 1+8.3 1+9.3 1+9.2 1+9.3 1+9.2 1+9.1 1+9.2 1+9.2 1+6.3 1-0.1 1-0.2 1-0.1 1-0.1 1-0.1 1 0 1 0 1 0 1 0 1+0.1 1+0.1 1+0.1 1+0.1 1+0.1 1+0.2 1+0.1 1+0.1 1+0.1 1+0.1 1 0 1+0.1 1 0 1 0 1 0 1-0.1 1 0 1 0 1-0.1 1 0 1 0 1-0.1 1 0 1+0.1 1 0 1 0 1 0 1 0 1+0.1 1 0 1 0 1 0 1-0.1 1 0 1 0 1 0 1 0 1 0 1+0.1 1 0 1 0 1 0 1 0 1 0 1 0 1 0 1 0 1 0 1 0 1-0.1 1 0 1-0.1 1 0 1 0 1 0 1 0 1+0.1 1 0 1+0.1 1+0.1 1 0 1+0.1 1+0.1 1 0 1+0.1 1 0 1 0 1 0 1 0 1 0 1 0 1 0 1 0 1 0 1 0 1 0 1 0 1 0 1 0 1 0 1 0 1 0 1 0 1 0 1-0.1 1 0 1 0 1-0.1 1 0 1 0 1-0.1 1 0 1 0 1 0 1 0 1 0 1 0 1 0 1 0 1 0 1+0.1 1 0 1 0 1 0 1 0 1 0 1 0 1 0 1 0 1 0 1 0 1 0 1 0 1-0.1 1 0 1-0.1 1 0 1 0 1-0.1 1 0 1 0 1-6.7 1-8.3 1-8.3 1-8.3 1-8.3 1-8.2 1-8.3 1-8.3 1-7.3 1-5.2 1-3.1 1-1 1+1 1+3.1 1+5.2 1+7.2 1+8.3 1+8.3 1+8.3 1+8.3 1+8.3 1+8.2 1+8.3 1+6.6 1 0 1 0 1 0 1 0 1+0.1 1 0 1 0 1+0.1 1 0 1 0 1+0.1 1 0 1+0.1 1 0 1 0 1-5 1-10 1-10.1 1-10 1-10.1 1-10.1 1-10.1 1-10.1 1-9.6 1-7.1 1-4.7 1-2.1 1+0.4 1+3 1+5.5 1+8 1+10 1+10.2 1+10.1 1+10.2 1+10.2 1+10.2 1+10.2 1+10.1 1+1.1 1 0 1 0 1-0.1 1-0.1 1-0.1 1-0.2 1-0.2 1-0.3 1-0.4 1-0.4 1-0.4 1-0.2 1-0.2 1 0 1+0.1 1+0.3 1+0.3 1+0.4 1+0.3 1+0.3 1+0.3 1+0.1 1+0.1 1+0.1 1+0.1 1 0 1 0 1+0.1 1 0 1 0 1 0 1+0.1 1 0 1 0 1+0.1 1 0 1 0 1+0.1 1 0 1 0 1 0 1 0 1 0 1 0 1 0 1 0 1 0 1 0 1 0 1 0 1 0 1 0 1 0 1 0 1 0 1 0 1 0 1 0 1 0 1 0 1-0.1 1 0 1 0 1-0.1 1 0 1-0.1 1 0 1-0.1 1 0 1-0.1 1 0 1 0 1 0 1 0 1 0 1 0 1 0 1+0.1 1 0 1 0 1 0 1+0.1 1 0 1 0 1 0 1 0 1 0 1 0 1 0 1 0 1 0 1 0 1 0 1 0 1+0.1 1 0 1-0.1 1 0 1 0 1 0 1-0.1 1 0 1 0 1-0.1 1-0.1 1 0 1 0 1-0.1 1 0 1 0 1 0 1-4.7 1-6.5 1-6.6 1-6.6 1-6.6 1-6.5 1-6.6 1-6.6 1-5.9 1-4.2 1-2.6 1-1 1+0.6 1+2.3 1+4 1+5.5 1+6.6 1+6.5 1+6.6 1+6.5 1+6.6 1+6.5 1+6.6 1+5.9 1 0 1-0.1 1+0.1 1 0 1 0 1+0.1 1+0.1 1+0.1 1+0.1 1+0.1 1+0.1 1+0.1 1 0 1 0 1 0 1 0 1 0 1-0.1 1 0 1 0 1-0.1 1 0 1 0 1 0 1 0 1 0 1 0 1 0 1 0 1+0.1 1 0 1 0 1 0 1-0.1 1 0 1 0 1 0 1 0 1 0 1 0 1-9.9 1-9.8 1-9.8 1-9.9 1-9.8 1-9.9 1-9.9 1-9.9 1-8.3 1-5.7 1-3.3 1-0.8 1+1.7 1+4.2 1+6.8 1+9.1 1+10 1+10 1+10 1+10 1+9.9 1+9.9 1+3.9 1-9.1 1-9.2 1-9.2 1-9.1 1-9.2 1-9.2 1-8.9 1-6.9 1-4.6 1-2.3 1 0 1+2.3 1+4.6 1+6.9 1+8.9 1+9.1 1+9.2 1+9.2 1+9.1 1+9.2 1+9.2 1-5.9 1-9.4 1-9.4 1-9.4 1-9.4 1-9.3 1-9.4 1-8 1-5.6 1-3.3 1-1 1+1.4 1+3.7 1+6.1 1+8.4 1+9.3 1+9.3 1+9.3 1+9.3 1+9.4 1+9.3 1+6.7 1-9.2 1-9.3 1-9.2 1-9.2 1-9.2 1-9.2 1-9.1 1-7.6 1-5.2 1-3 1-0.6 1+1.6 1+4 1+6.2 1+8.6 1+9.2 1+9.2 1+9.2 1+9.2 1+9.3 1+9.2 1+9.2 1-8.7 1-8.9 1-8.8 1-8.9 1-8.9 1-8.8 1-8.9 1-8.1 1-5.9 1-3.7 1-1.6 1+0.7 1+2.9 1+5.2 1+7.3 1+8.8 1+8.8 1+8.8 1+8.7 1+8.8 1+8.7 1+8.7 1+8.7 1-0.1 1-0.1 1-0.1 1 0 1 0 1+0.1 1+0.1 1+0.1 1 0 1+0.1 1 0 1 0 1 0 1 0 1-0.1 1 0 1 0 1+0.1 1 0 1 0 1 0 1 0 1 0 1-7 1-8.7 1-8.7 1-8.8 1-8.7 1-8.7 1-8.6 1-8.7 1-7.6 1-5.4 1-3.2 1-1 1+1.2 1+3.3 1+5.5 1+7.6 1+8.8 1+8.7 1+8.7 1+8.7 1+8.7 1+8.7 1+8.7 1+6.9 1 0 1 0 1 0 1 0 1 0 1 0 1 0 1-0.1 1 0 1 0 1-0.1 1 0 1-0.1 1-0.1 1-0.1 1 0 1-0.1 1-0.7 1-7.2 1-7.2 1-7.2 1-7.2 1-7.1 1-7.2 1-7.1 1-7.1 1-5.7 1-4 1-2.1 1-0.4 1+1.5 1+3.2 1+5 1+6.8 1+7.2 1+7.1 1+7.2 1+7.2 1+7.2 1+7.1 1+7.2 1+3.6 1 0 1 0 1 0 1 0 1 0 1+0.1 1 0 1+0.1 1+0.1 1 0 1+0.1 1+0.1 1 0 1+0.1 1 0 1 0 1+0.1 1 0 1 0 1-0.1 1 0 1 0 1-0.1 1 0 1-0.1 1 0 1-0.1 1 0 1-0.1 1 0 1-0.1 1 0 1 0 1 0 1 0 1+0.1 1 0 1 0 1+0.1 1 0 1+0.1 1+0.1 1 0 1+0.1 1 0 1+0.1 1 0 1 0 1+0.1 1 0 1 0 1 0 1 0 1 0 1 0 1 0 1 0 1 0 1-0.1 1 0 1 0 1-0.1 1 0 1 0 1-0.1 1 0 1-0.1 1-0.1 1 0 1-0.1 1-0.1 1 0 1-0.1 1 0 1-0.1 1 0 1 0 1 0 1 0 1 0 1+0.1 1 0 1 0 1+0.1 1+0.1 1 0 1+0.1 1 0 1+0.1 1+0.1 1 0 1 0 1+0.1 1 0 1 0 1 0 1 0 1-0.1 1 0 1-0.1 1 0 1-0.1 1-0.1 1 0 1-0.1 1-0.1 1-0.1 1 0 1-0.1 1 0 1-0.1 1 0 1 0 1+0.1 1 0 1+0.1 1 0 1+0.1 1+0.1 1+0.1 1+0.1 1 0 1+0.1 1+0.1 1 0 1+0.1 1 0 1+0.1 1 0 1 0 1 0 1 0 1 0 1 0 1-2.1 1-6.7 1-6.7 1-6.6 1-6.7 1-6.7 1-6.6 1-6.7 1-6.4 1-5 1-3.3 1-1.6 1 0 1+1.6 1+3.3 1+5 1+6.4 1+6.7 1+6.6 1+6.7 1+6.6 1+6.6 1+6.7 1+6.6 1+2 1-0.1 1 0 1 0 1-0.1 1 0 1 0 1 0 1 0 1 0 1+0.1 1 0 1+0.1 1 0 1+0.1 1 0 1+0.1 1 0 1 0 1 0 1-0.1 1 0 1 0 1-0.1 1 0 1 0 1 0 1 0 1 0 1 0 1 0 1 0 1-0.1 1-0.2 1-0.2 1-0.4 1-0.4 1-0.5 1-0.5 1-0.3 1-0.3 1-0.1 1+0.1 1+0.3 1+0.3 1+0.4 1+0.3 1+0.3 1+0.2 1+0.1 1+0.1 1+0.1 1 0 1 0 1 0 1 0 1 0 1 0 1 0 1+0.1 1 0 1+0.1 1+0.1 1+0.1 1-6.5 1-8.1 1-8.2 1-8.1 1-8.2 1-8.2 1-8.2 1-8.2 1-7.2 1-5.1 1-3.1 1-1 1+1 1+3.1 1+5.2 1+7.2 1+8.2 1+8.1 1+8.2 1+8.2 1+8.1 1+8.2 1+4.3 1-7.9 1-7.9 1-8 1-7.9 1-7.9 1-7.9 1-7.6 1-5.9 1-3.9 1-2 1+0.1 1+2 1+4 1+6 1+7.7 1+8 1+7.9 1+7.9 1+8 1+7.9 1+8 1+7.9 1+2.4 1 0 1 0 1 0 1+0.1 1 0 1 0 1 0 1 0 1 0 1-0.1 1 0 1 0 1 0 1 0 1 0 1 0 1 0 1+0.1 1 0 1 0 1+0.1 1 0 1 0 1 0 1-0.1 1 0 1-0.1 1 0 1-0.1 1-0.1 1-0.1 1-0.1 1-0.1 1 0 1-0.1 1 0L1187.5 1335.2"/></defs>
<use href="#cmcG" fill="#000000" fill-opacity="0.130" stroke="none"/>
<defs><path id="cmcT" d="M93.5 1332.8L93.5 1331.8l1 0 1+0.1 1 0 1+0.1 1 0 1+0.1 1 0 1+0.1 1 0 1-0.1 1 0 1 0 1-0.1 1 0 1-0.1 1 0 1 0 1 0 1+0.1 1 0 1+0.1 1 0 1+0.1 1 0 1 0 1 0 1 0 1-0.1 1-0.1 1 0 1-0.1 1-0.1 1 0 1 0 1 0 1 0 1+0.1 1+0.1 1+0.1 1 0 1+0.1 1+0.1 1 0 1+0.1 1 0 1 0 1 0 1-0.1 1 0 1-0.1 1 0 1 0 1-0.1 1 0 1+0.1 1 0 1 0 1+0.1 1+0.1 1 0 1+0.1 1 0 1+0.1 1 0 1 0 1 0 1 0 1 0 1-0.1 1-0.1 1-0.1 1-0.1 1-0.2 1-0.3 1-0.3 1-0.5 1-0.5 1-0.5 1-0.5 1-0.4 1-0.2 1+0.1 1+0.2 1+0.4 1+0.5 1+0.5 1+0.5 1+0.4 1+0.3 1+0.1 1+0.1 1 0 1-0.1 1-0.2 1-0.3 1-0.5 1-0.5 1-0.6 1-0.7 1-0.6 1-0.4 1-0.3 1 0 1+0.2 1+0.4 1+0.6 1+0.7 1+0.6 1+0.5 1+0.5 1+0.4 1+0.3 1+0.2 1+0.1 1+0.2 1+0.1 1 0 1+0.1 1 0 1 0 1 0 1 0 1 0 1 0 1-0.1 1 0 1-0.1 1 0 1 0 1-0.1 1 0 1 0 1 0 1 0 1-0.1 1 0 1-0.1 1-0.2 1-0.2 1-0.4 1-0.5 1-0.6 1-0.6 1-0.6 1-0.5 1-0.2 1-0.1 1+0.2 1+0.4 1+0.5 1+0.5 1+0.6 1+0.4 1+0.3 1+0.3 1+0.1 1+0.1 1+0.1 1 0 1+0.1 1 0 1 0 1+0.1 1 0 1 0 1 0 1 0 1 0 1-0.1 1 0 1 0 1-0.1 1 0 1-0.1 1 0 1 0 1 0 1 0 1+0.1 1 0 1+0.1 1 0 1+0.1 1+0.1 1 0 1+0.1 1 0 1 0 1 0 1 0 1 0 1-0.1 1 0 1 0 1 0 1 0 1 0 1+0.1 1 0 1 0 1 0 1 0 1 0 1-0.1 1 0 1-0.1 1 0 1-0.1 1 0 1-0.1 1 0 1 0 1 0 1+0.1 1 0 1+0.1 1+0.1 1+0.1 1+0.1 1+0.1 1+0.1 1 0 1+0.1 1+0.1 1 0 1 0 1 0 1+0.1 1 0 1 0 1-0.1 1 0 1 0 1 0 1-0.1 1 0 1 0 1-0.1 1 0 1 0 1-0.1 1 0 1 0 1-0.1 1 0 1 0 1-0.1 1 0 1-0.1 1-0.1 1-0.1 1-0.1 1 0 1 0 1-0.1 1+0.1 1 0 1+0.1 1 0 1+0.1 1+0.1 1+0.1 1 0 1+0.1 1-6.8 1-8.5 1-8.5 1-8.5 1-8.5 1-8.5 1-8.5 1-8.4 1-7.5 1-5.3 1-3.1 1-1 1+1.1 1+3.2 1+5.3 1+7.5 1+8.6 1+8.5 1+8.5 1+8.6 1+8.5 1+8.5 1+8.5 1+6.9 1 0 1 0 1 0 1 0 1 0 1 0 1-0.1 1 0 1 0 1 0 1 0 1 0 1 0 1-0.1 1 0 1 0 1-0.1 1 0 1-0.1 1-0.1 1-0.1 1-6.9 1-7.7 1-7.7 1-7.7 1-7.7 1-7.7 1-7.7 1-7.7 1-6.5 1-4.6 1-2.6 1-0.7 1+1.1 1+3.1 1+5.1 1+6.9 1+7.7 1+7.6 1+7.7 1+7.7 1+7.6 1+7.7 1+7.3 1-6.3 1-6.2 1-6.3 1-6.3 1-6.3 1-6.3 1-6.3 1-5.3 1-3.8 1-2.2 1-0.6 1+1 1+2.5 1+4.1 1+5.7 1+6.3 1+6.3 1+6.4 1+6.3 1+6.3 1+6.3 1+6.3 1+4.4 1 0 1 0 1 0 1-0.1 1 0 1 0 1-0.1 1 0 1 0 1-0.1 1 0 1 0 1-0.1 1 0 1-0.1 1 0 1-0.1 1-2.8 1-7.1 1-7.1 1-7 1-7.1 1-7 1-7.1 1-7 1-6.7 1-5.1 1-3.4 1-1.6 1+0.2 1+1.9 1+3.7 1+5.4 1+6.9 1+7 1+7.1 1+7 1+7.1 1+7.1 1+7.1 1+7.1 1+1.5 1 0 1+0.1 1+0.1 1 0 1+0.1 1 0 1+0.1 1 0 1 0 1 0 1+0.1 1 0 1 0 1 0 1 0 1+0.1 1 0 1 0 1 0 1 0 1 0 1 0 1 0 1 0 1 0 1 0 1 0 1 0 1 0 1 0 1 0 1 0 1 0 1 0 1 0 1 0 1 0 1 0 1 0 1 0 1 0 1 0 1 0 1 0 1 0 1+0.1 1 0 1 0 1 0 1-0.1 1 0 1-0.1 1 0 1-0.1 1-0.1 1-0.1 1-0.1 1-0.1 1-0.1 1 0 1-0.1 1 0 1-0.1 1 0 1+0.1 1 0 1+0.1 1 0 1+0.1 1+0.1 1 0 1+0.1 1 0 1+0.1 1 0 1 0 1 0 1-0.1 1 0 1-0.1 1-0.1 1-0.1 1-0.1 1 0 1 0 1 0 1 0 1+0.1 1+0.1 1+0.1 1+0.1 1+0.1 1 0 1 0 1-0.1 1-0.1 1-0.1 1-0.1 1-0.1 1 0 1 0 1 0 1+0.2 1+0.1 1+0.1 1+0.2 1+0.1 1 0 1-4.3 1-7.2 1-7.3 1-7.3 1-7.4 1-7.3 1-7.3 1-7.4 1-6.7 1-5 1-3.1 1-1.3 1+0.6 1+2.4 1+4.2 1+6 1+7.3 1+7.3 1+7.3 1+7.3 1+7.4 1+7.3 1+7.2 1+7.3 1 0 1+0.1 1 0 1 0 1 0 1 0 1 0 1 0 1 0 1 0 1 0 1 0 1-0.1 1-0.1 1-0.1 1-0.1 1-0.1 1-0.2 1-0.1 1-0.1 1-0.1 1 0 1+0.1 1+0.1 1+0.1 1+0.2 1+0.1 1+0.2 1+0.1 1+0.1 1 0 1 0 1+0.1 1 0 1 0 1 0 1 0 1 0 1 0 1 0 1 0 1 0 1-2.8 1-5.6 1-5.6 1-5.7 1-5.6 1-5.7 1-5.6 1-5.7 1-5.3 1-3.9 1-2.6 1-1.1 1+0.3 1+1.8 1+3.1 1+4.5 1+5.6 1+5.6 1+5.6 1+5.6 1+5.5 1+5.6 1+5.5 1+5.6 1+0.5 1 0 1 0 1 0 1+0.1 1 0 1+0.1 1+0.1 1 0 1+0.1 1 0 1 0 1 0 1 0 1 0 1 0 1 0 1-0.1 1 0 1 0 1 0 1 0 1 0 1 0 1 0 1+0.1 1 0 1 0 1 0 1 0 1 0 1 0 1 0 1-0.1 1 0 1 0 1 0 1-0.1 1 0 1-0.1 1-0.2 1-0.1 1-0.3 1-0.4 1-0.4 1-0.4 1-0.4 1-0.4 1-0.2 1-0.1 1+0.1 1+0.2 1+0.3 1+0.4 1+0.4 1+0.3 1+0.3 1+0.2 1+0.2 1+0.1 1+0.1 1+0.1 1 0 1-0.1 1 0 1-0.1 1-0.2 1-0.1 1-0.1 1-0.1 1 0 1 0 1 0 1+0.1 1+0.1 1 0 1+0.1 1 0 1 0 1 0 1 0 1 0 1+0.1 1 0 1+0.1 1+0.1 1+0.1 1+0.1 1 0 1+0.1 1+0.1 1+0.1 1 0 1 0 1 0 1 0 1 0 1-0.1 1 0 1-0.1 1-0.1 1-0.1 1-0.1 1-0.1 1-0.1 1-0.1 1-0.1 1 0 1-0.1 1 0 1 0 1 0 1 0 1 0 1 0 1-0.2 1-0.2 1-0.3 1-0.4 1-0.4 1-0.4 1-0.3 1-0.1 1 0 1+0.2 1+0.4 1+0.5 1+0.4 1+0.5 1+0.4 1+0.4 1+0.2 1+0.2 1+0.1 1+0.1 1 0 1 0 1+0.1 1 0 1 0 1 0 1 0 1 0 1 0 1 0 1 0 1-0.1 1 0 1 0 1-6.1 1-6.7 1-6.7 1-6.8 1-6.8 1-6.7 1-6.8 1-6.7 1-5.6 1-4 1-2.3 1-0.6 1+1.1 1+2.8 1+4.4 1+6 1+6.7 1+6.7 1+6.6 1+6.6 1+6.6 1+6.5 1+6.5 1+4.5 1-0.1 1-0.1 1-0.1 1-0.1 1-0.1 1 0 1 0 1 0 1 0 1+0.1 1 0 1+0.1 1+0.1 1+0.1 1+0.1 1+0.1 1 0 1 0 1+0.1 1 0 1-0.1 1 0 1-0.1 1-0.1 1 0 1-0.1 1-0.1 1 0 1 0 1 0 1 0 1-0.1 1-0.1 1-0.2 1-0.3 1-0.3 1-0.4 1-0.4 1-0.3 1-0.1 1 0 1+0.2 1+0.3 1+0.5 1+0.4 1+0.5 1+0.4 1+0.3 1+0.2 1+0.2 1+0.1 1+0.1 1 0 1+0.1 1 0 1 0 1 0 1 0 1 0 1 0 1 0 1 0 1 0 1 0 1 0 1 0 1 0 1 0 1 0 1 0 1-0.1 1 0 1-0.1 1-0.1 1-0.2 1-0.3 1-0.4 1-0.5 1-0.4 1-0.5 1-0.4 1-0.2 1-0.1 1+0.1 1+0.3 1+0.4 1+0.4 1+0.4 1+0.3 1+0.3 1+0.2 1+0.1 1+0.2 1 0 1+0.1 1+0.1 1+0.1 1 0 1+0.1 1 0 1+0.1 1 0 1 0 1 0 1 0 1 0 1-0.1 1 0 1 0 1 0 1-0.1 1 0 1 0 1 0 1-0.1 1 0 1 0 1 0 1 0 1 0 1+0.1 1 0 1 0 1 0 1 0 1 0 1 0 1+0.1 1 0 1 0 1 0 1 0 1 0 1 0 1-0.1 1 0 1-1.6 1-5 1-5 1-5.1 1-5 1-5 1-5 1-5 1-4.8 1-3.7 1-2.5 1-1.2 1+0.1 1+1.4 1+2.5 1+3.9 1+4.8 1+5.1 1+5 1+5 1+5 1+4.9 1+5 1+4.9 1+1.5 1 0 1-0.1 1 0 1 0 1 0 1 0 1 0 1+0.1 1 0 1 0 1 0 1+0.1 1 0 1 0 1 0 1-3.2 1-10.7 1-10.7 1-10.7 1-10.8 1-10.7 1-10.7 1-10.7 1-10.4 1-8.1 1-5.4 1-2.7 1-0.1 1+2.6 1+5.3 1+8 1+10.3 1+10.6 1+10.7 1+10.7 1+10.7 1+10.7 1+10.8 1+10.7 1+3.3 1+0.1 1 0 1+0.1 1 0 1+0.1 1 0 1 0 1 0 1 0 1-0.1 1-0.2 1-0.2 1-0.3 1-0.5 1-0.5 1-0.7 1-0.7 1-0.6 1-0.5 1-0.3 1 0 1+0.3 1+0.5 1+0.6 1+0.6 1+0.6 1+0.5 1+0.4 1+0.3 1+0.2 1+0.2 1+0.1 1 0 1+0.1 1 0 1 0 1 0 1 0 1 0 1 0 1 0 1 0 1 0 1+0.1 1 0 1 0 1 0 1+0.1 1 0 1-0.1 1 0 1-0.1 1 0 1-0.1 1-0.1 1-0.1 1-0.1 1-0.1 1-0.1 1 0 1-0.1 1 0 1 0 1 0 1 0 1 0 1-0.1 1 0 1+0.1 1 0 1 0 1 0 1+0.1 1 0 1+0.1 1+0.1 1+0.1 1+0.1 1+0.1 1 0 1+0.1 1+0.1 1 0 1+0.1 1 0 1 0 1 0 1+0.1 1 0 1 0 1 0 1 0 1 0 1 0 1+0.1 1 0 1 0 1 0 1+0.1 1 0 1 0 1 0 1 0 1 0 1 0 1 0 1 0 1 0 1 0 1 0 1 0 1 0 1 0 1 0 1 0 1 0 1 0 1 0 1 0 1 0 1 0 1 0 1 0 1 0 1 0L1187.5 1332.8"/></defs>
<use href="#cmcT" fill="#f03c32" fill-opacity="0.130" stroke="none"/>
<use href="#cmcA" fill="none" stroke="#2acc2e" stroke-width="2.80" stroke-linejoin="round"/>
<use href="#cmcC" fill="none" stroke="#3d64e2" stroke-width="2.80" stroke-linejoin="round"/>
<use href="#cmcG" fill="none" stroke="#111111" stroke-width="2.80" stroke-linejoin="round"/>
<use href="#cmcT" fill="none" stroke="#f03c32" stroke-width="2.80" stroke-linejoin="round"/>
</g>
<rect x="108.5" y="1336.5" width="1064" height="2" fill="#b4b4b4"/>
<g clip-path="url(#cmn)">
<text x="125.0" y="1358" font-family='"Liberation Sans", sans-serif' font-size="20" fill="#888" text-anchor="middle">180</text>
<text x="345.0" y="1358" font-family='"Liberation Sans", sans-serif' font-size="20" fill="#888" text-anchor="middle">170</text>
<text x="565.0" y="1358" font-family='"Liberation Sans", sans-serif' font-size="20" fill="#888" text-anchor="middle">160</text>
<text x="785.0" y="1358" font-family='"Liberation Sans", sans-serif' font-size="20" fill="#888" text-anchor="middle">150</text>
<text x="1005.0" y="1358" font-family='"Liberation Sans", sans-serif' font-size="20" fill="#888" text-anchor="middle">140</text>
</g>
<rect x="549.4" y="766.7" width="32" height="565.8" rx="4" ry="4" fill="none" stroke="#ef4b3f" stroke-width="3.8"/>
</svg></body></html>
